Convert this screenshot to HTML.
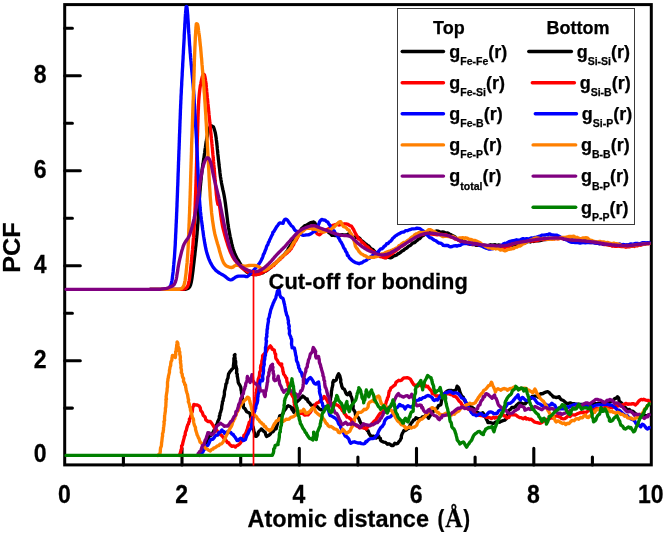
<!DOCTYPE html><html><head><meta charset="utf-8"><title>PCF</title>
<style>html,body{margin:0;padding:0;background:#fff}svg{display:block}text{font-family:"Liberation Sans",sans-serif;font-weight:bold;fill:#000;stroke:#000;stroke-width:0.25px}</style></head><body>
<svg width="666" height="536" viewBox="0 0 666 536">
<rect width="666" height="536" fill="#fff"/>
<g stroke="#000" fill="none">
<rect x="64.7" y="4.6" width="586.6" height="460.3" stroke-width="3"/>
<path d="M123.4 464.9V457.0M182.0 464.9V448.3M240.7 464.9V457.0M299.3 464.9V448.3M357.9 464.9V457.0M416.5 464.9V448.3M475.1 464.9V457.0M533.8 464.9V448.3M592.4 464.9V457.0M64.8 408.1H72.4M64.8 360.7H80.3M64.8 313.2H72.4M64.8 265.7H80.3M64.8 218.2H72.4M64.8 170.8H80.3M64.8 123.3H72.4M64.8 75.8H80.3M64.8 28.3H72.4" stroke-width="3.1" stroke-linecap="round"/>
</g>
<g fill="none" stroke-linejoin="round" stroke-linecap="round" stroke-width="3.35">
<polyline stroke="#000" points="200.0,455.4 201.0,454.8 201.5,452.9 202.2,451.6 203.0,450.0 203.5,448.9 204.4,447.3 204.6,446.2 205.5,443.8 206.3,443.5 206.8,441.9 207.1,440.1 208.2,438.5 208.9,436.3 210.0,435.9 211.3,435.2 212.1,433.8 213.0,432.4 214.2,429.9 215.0,429.0 215.7,427.8 215.8,426.0 216.9,424.0 217.2,423.4 217.8,421.4 218.4,420.4 219.4,418.0 219.3,416.2 219.9,415.6 220.0,413.4 220.7,411.8 221.1,410.2 221.6,408.7 221.7,406.8 222.0,405.1 222.4,403.4 222.5,401.6 223.1,400.8 223.3,398.2 223.7,397.7 224.1,396.0 224.4,394.5 224.4,391.9 224.8,390.1 225.1,389.3 225.5,387.2 225.8,385.5 225.9,384.1 226.8,382.9 227.1,380.0 227.5,379.1 228.0,378.1 228.2,376.3 228.6,373.9 229.5,372.5 230.5,370.9 231.0,370.6 231.9,369.2 233.4,367.9 233.4,365.3 233.6,364.5 233.8,362.4 233.9,361.6 233.9,358.3 234.7,356.9 234.3,355.2 235.0,354.6 234.7,355.5 234.9,357.0 235.2,359.3 235.4,360.3 235.7,361.8 235.6,365.0 235.9,365.7 236.4,368.2 236.7,368.8 236.7,371.8 236.5,373.1 237.3,374.2 237.2,376.2 237.5,377.1 237.8,379.1 238.1,380.9 238.2,382.3 238.8,383.7 239.5,384.6 240.4,386.4 240.8,387.5 241.1,390.3 241.4,390.9 241.6,393.6 242.0,394.8 242.3,396.1 242.3,398.2 242.2,399.1 242.7,400.9 243.1,402.8 243.4,404.8 243.3,406.2 243.7,407.9 244.8,408.5 245.8,410.1 246.7,411.8 248.4,412.5 250.2,413.7 250.3,414.4 250.6,416.9 251.2,418.5 251.1,420.5 251.6,420.7 252.0,423.8 252.1,424.9 252.4,425.8 253.1,427.1 253.7,429.6 253.7,430.6 254.6,433.5 254.9,435.3 255.5,436.3 256.5,436.3 257.1,435.5 258.0,434.7 258.2,432.7 259.2,431.0 260.6,430.0 261.3,428.9 262.9,430.5 264.3,431.9 265.1,432.1 265.8,434.9 266.6,436.5 268.4,435.6 269.7,434.6 270.7,433.5 271.7,431.7 273.0,431.7 274.3,429.8 275.4,428.3 276.2,428.7 276.8,426.1 277.4,424.3 277.8,422.6 278.1,420.8 278.8,419.0 279.3,417.8 279.7,415.8 281.2,415.3 282.2,415.0 283.0,413.1 284.0,411.3 284.6,410.1 285.8,408.8 286.8,406.7 288.3,405.8 289.4,406.2 291.5,407.4 291.8,409.3 293.0,410.8 293.8,412.3 294.3,410.3 294.5,409.4 294.9,407.3 295.4,404.8 295.6,403.9 296.4,402.1 297.9,400.9 299.4,399.6 300.5,398.0 302.1,397.1 302.7,396.0 304.5,397.4 306.0,399.0 307.3,399.0 307.8,401.2 308.9,402.3 310.1,403.4 310.9,405.0 312.1,405.9 313.3,405.2 314.4,405.5 316.4,406.6 317.5,406.7 319.3,409.0 321.3,409.9 322.9,409.4 324.1,407.4 326.3,407.0 327.5,406.6 327.9,406.4 328.6,403.8 329.0,403.0 330.0,401.3 330.5,399.8 330.5,398.4 330.9,396.9 331.2,395.3 331.4,392.8 331.4,391.7 331.8,389.9 332.0,388.1 332.3,387.0 332.8,384.9 332.8,382.3 333.5,380.6 334.5,381.2 336.3,379.9 336.5,379.2 336.9,377.5 337.6,375.5 338.6,373.7 339.8,375.9 340.4,378.3 340.8,379.8 340.7,382.1 341.1,383.2 341.4,384.1 341.7,386.0 342.7,388.4 344.3,389.3 345.1,390.9 345.8,392.8 346.7,394.3 347.6,394.8 348.8,393.2 349.8,392.3 350.5,394.0 350.6,395.7 351.5,397.2 351.9,398.4 352.2,399.8 352.4,400.9 352.7,403.0 352.9,404.6 353.2,405.7 353.0,408.7 353.9,410.3 354.8,411.6 355.2,412.5 355.5,415.1 357.3,416.7 358.4,417.8 359.0,418.9 359.9,421.3 361.0,423.6 361.7,423.9 363.1,426.5 363.7,427.7 365.8,428.3 367.7,431.0 368.3,431.0 368.7,432.8 369.5,434.2 371.1,436.4 373.3,436.2 375.0,436.8 376.2,438.0 377.9,436.3 378.6,435.9 379.2,437.7 380.4,438.5 380.5,440.2 381.7,441.3 383.7,442.1 385.5,442.4 387.4,444.2 388.9,443.8 390.4,444.5 391.4,445.5 393.2,445.5 394.8,443.2 396.1,443.9 397.8,443.4 398.9,441.7 400.1,440.3 400.6,439.2 401.3,438.1 401.4,435.9 402.2,433.7 402.9,432.5 404.0,430.4 404.9,430.6 406.3,430.0 407.3,428.7 408.7,428.5 409.7,425.8 410.4,424.8 411.4,422.8 412.3,422.1 413.6,420.0 414.8,419.8 415.9,417.8 417.8,418.7 419.2,418.7 421.2,418.5 422.4,416.8 424.5,416.5 426.0,414.8 427.4,416.6 428.6,418.3 429.2,417.0 430.0,415.9 430.8,414.4 432.0,412.2 433.5,411.4 434.7,409.4 435.8,408.5 437.4,408.2 438.5,405.6 439.8,405.2 440.8,404.7 441.1,403.7 441.4,401.2 441.8,399.8 442.3,398.3 442.6,396.3 443.8,394.9 445.0,394.1 445.8,392.1 447.6,390.9 449.3,390.4 451.3,390.4 453.4,391.2 454.5,390.5 455.8,390.1 456.5,388.4 457.1,386.2 458.4,387.4 459.1,389.0 459.9,392.0 460.4,393.1 461.3,395.3 462.5,396.8 463.3,397.0 463.8,399.3 465.2,401.1 465.9,402.3 466.4,403.7 467.3,404.1 468.6,405.2 469.6,406.2 471.7,407.0 473.1,408.3 474.2,408.8 475.6,410.6 476.6,411.9 478.3,412.8 479.6,413.3 481.7,413.5 482.8,412.7 483.7,413.9 484.5,415.5 485.6,417.4 486.4,419.4 487.3,420.7 487.9,422.6 489.6,422.4 491.4,422.9 493.0,423.3 494.4,423.0 495.6,422.0 497.7,422.0 499.5,422.2 501.0,421.3 503.0,420.6 504.7,420.2 506.5,418.5 507.0,417.1 507.1,415.1 507.9,414.7 508.1,412.7 508.6,410.5 509.5,410.0 510.7,409.1 511.8,407.5 513.8,407.5 515.2,406.9 516.8,404.9 518.7,403.2 520.5,402.8 521.9,403.4 523.3,403.9 525.5,403.8 526.1,402.1 527.1,402.1 528.4,401.2 529.6,398.7 530.7,398.7 532.0,396.5 533.2,396.4 534.9,396.2 537.0,396.1 538.4,397.3 539.5,395.6 540.7,393.6 542.5,393.7 544.2,392.7 545.7,392.1 547.7,391.7 549.3,392.7 550.7,394.3 552.2,395.5 553.3,397.0 554.7,397.0 556.4,397.6 557.8,397.1 559.2,396.7 560.2,398.6 561.4,399.7 563.4,400.5 565.0,401.9 566.3,403.5 568.2,403.5 570.2,402.9 571.8,403.3 573.9,403.6 574.9,404.1 577.0,404.2 578.4,404.2 579.8,404.4 581.9,404.5 583.2,404.3 585.1,404.9 586.4,404.9 588.4,404.2 590.0,403.7 591.5,404.5 593.4,404.0 595.3,403.7 596.5,404.1 598.2,403.4 600.1,403.5 601.8,402.6 603.1,401.9 605.1,403.2 606.6,402.2 608.5,402.4 609.8,402.3 611.4,401.0 613.1,400.8 614.4,398.9 616.2,398.1 617.5,396.8 618.7,397.9 619.1,400.8 620.2,402.0 621.3,402.9 622.6,404.2 623.7,406.8 625.1,407.2 625.9,408.4 627.7,409.6 629.4,409.5 630.7,411.1 632.5,411.1 633.4,411.8 635.1,413.5 636.1,414.0 637.5,415.4 639.5,414.7 640.6,415.9 642.4,415.9 644.4,414.9 645.6,416.1 648.0,415.2 649.2,414.6"/>
<polyline stroke="#f00" points="179.0,455.4 180.0,453.9 180.8,451.2 181.0,449.9 181.6,448.7 181.6,445.8 182.5,444.8 182.9,442.4 183.1,441.9 183.4,440.6 184.3,437.4 184.2,436.7 185.2,434.9 185.2,433.4 185.6,431.5 186.3,430.3 186.7,428.3 187.1,427.1 187.7,424.8 188.5,424.1 188.8,422.0 189.5,421.5 189.4,419.1 190.3,418.1 190.9,416.1 191.2,414.9 191.4,413.2 192.2,411.9 192.5,409.7 192.7,407.4 193.7,405.9 193.8,404.4 195.8,405.0 197.3,405.0 199.1,405.9 199.7,406.9 200.3,407.9 200.7,410.6 201.9,411.9 202.4,412.7 203.3,415.5 204.3,416.3 205.2,417.2 205.8,419.9 206.6,420.5 208.2,421.5 210.3,421.5 211.9,423.6 212.9,425.1 213.7,426.3 214.5,427.7 215.1,430.0 216.7,430.2 218.0,431.9 219.1,433.0 220.5,434.7 221.8,435.7 222.7,436.6 224.0,438.4 225.7,440.0 226.7,441.3 227.3,442.6 228.6,442.6 229.2,443.8 230.7,445.4 232.0,446.4 233.8,445.9 235.4,447.0 236.6,445.7 238.2,445.1 239.2,444.2 240.3,443.1 241.3,441.4 241.8,441.1 242.8,438.5 243.6,438.0 243.9,435.3 244.7,435.0 245.5,433.5 246.4,431.7 246.6,430.9 247.5,428.7 247.7,427.3 248.3,425.7 248.8,424.3 249.2,422.2 250.3,421.6 250.7,420.0 251.5,418.6 252.6,416.1 253.1,413.9 253.8,412.3 254.0,412.1 254.0,409.2 254.4,408.8 254.6,406.4 254.6,404.5 254.7,403.4 255.1,401.0 255.1,400.1 255.4,398.2 255.7,397.1 256.3,394.1 256.1,392.9 256.8,392.0 256.6,389.5 257.1,388.8 257.4,386.4 257.6,385.3 257.7,384.0 257.9,381.8 258.2,379.1 259.0,377.3 259.3,376.2 259.6,374.1 259.6,372.4 260.3,371.2 260.7,370.1 260.5,367.9 260.8,365.4 261.1,365.1 261.8,363.3 261.8,361.3 262.4,359.3 262.6,357.4 262.6,355.8 263.5,354.6 264.9,353.2 265.9,352.5 267.2,349.6 268.1,348.1 268.8,347.7 270.4,345.9 271.8,347.8 272.1,349.1 274.3,350.0 274.6,351.9 275.1,353.7 275.7,354.2 275.6,356.2 275.8,358.1 276.1,358.7 277.5,360.5 278.1,362.2 278.8,362.9 280.4,364.8 281.7,363.9 281.6,366.3 282.5,367.9 282.8,369.7 282.9,371.2 283.4,372.3 283.6,374.0 285.0,375.7 285.7,377.4 286.7,378.3 286.7,379.8 287.1,382.2 287.9,382.9 287.9,384.9 288.5,386.6 288.6,387.2 289.3,388.7 290.2,390.1 290.6,392.5 291.5,394.1 292.3,395.7 292.8,396.5 293.5,397.5 293.9,399.3 294.1,402.3 294.5,402.9 294.3,404.8 295.4,406.1 296.0,407.6 296.6,409.1 297.4,411.5 299.0,412.6 300.2,413.4 301.7,413.1 303.1,413.7 304.8,415.1 306.0,414.8 308.1,414.8 309.5,413.2 310.7,411.8 311.5,410.3 312.4,408.6 313.7,408.0 314.5,406.1 315.2,405.0 315.8,404.0 317.1,402.9 318.5,402.5 320.0,400.7 321.3,400.3 322.4,398.9 323.5,398.1 324.2,396.5 325.6,397.7 326.8,399.9 328.0,402.1 328.4,403.4 329.0,404.1 331.2,404.5 332.8,403.4 334.8,403.3 336.2,404.8 337.5,405.1 338.9,406.1 340.0,407.6 341.2,408.2 341.5,409.0 342.4,410.7 343.5,411.1 344.3,413.4 345.2,414.2 346.2,415.7 347.2,417.2 348.9,417.4 349.9,418.6 351.1,419.0 351.9,421.7 353.0,422.8 354.1,424.4 355.7,424.8 356.8,426.1 358.1,426.5 359.7,427.9 361.9,427.2 363.3,427.9 364.6,428.0 366.3,429.0 367.4,427.1 369.0,425.8 370.3,425.7 371.7,424.0 372.4,423.3 373.4,422.1 374.4,421.0 375.8,420.0 377.0,417.9 377.8,416.8 379.1,414.7 380.2,413.2 381.4,412.9 382.9,411.7 383.7,410.4 384.4,408.7 384.6,406.3 385.5,404.4 386.0,402.8 386.6,400.6 387.2,399.6 387.5,397.9 388.3,396.7 388.6,395.0 389.0,392.6 389.2,391.1 390.1,390.4 390.7,388.1 392.5,386.8 394.0,385.6 395.1,385.1 395.9,382.4 397.2,381.5 398.7,380.3 400.3,380.6 401.4,380.2 402.7,378.9 404.0,377.8 405.3,377.8 407.1,377.6 408.7,378.1 410.4,379.2 411.4,380.9 412.2,382.3 413.0,383.5 413.5,384.4 415.2,385.8 416.6,385.0 418.2,386.0 419.6,384.9 421.3,385.7 423.0,384.8 424.7,384.7 426.1,386.7 427.8,386.3 429.1,388.3 430.0,389.3 431.6,391.1 432.3,393.6 434.3,394.1 436.0,396.0 437.8,395.8 440.2,396.1 441.3,394.9 442.7,394.0 444.0,393.6 446.1,392.8 447.4,393.8 449.3,393.7 450.3,394.6 452.0,394.5 453.3,396.0 455.1,396.4 456.7,397.6 458.0,399.4 459.1,401.2 460.0,401.8 461.0,402.7 461.9,404.7 463.1,405.9 464.6,407.0 466.5,407.5 467.7,408.8 469.3,409.3 470.3,410.2 471.9,412.5 472.9,412.2 474.9,414.0 476.7,414.2 478.0,415.1 479.5,415.4 481.2,415.5 483.1,416.0 484.5,416.3 486.6,417.3 488.1,417.4 489.8,417.6 491.4,418.6 493.3,417.2 494.8,418.2 496.2,417.2 498.0,417.8 499.5,416.5 501.4,414.0 502.9,414.4 503.8,415.9 505.1,416.0 506.8,417.8 508.9,417.3 510.0,414.7 512.6,414.7 514.4,414.8 515.9,415.0 517.9,416.6 519.6,417.6 521.2,417.7 523.2,418.7 525.3,417.5 526.3,419.1 528.0,418.7 529.4,419.6 531.0,419.2 532.5,420.3 534.1,421.8 536.0,422.3 538.2,422.8 540.2,423.3 541.2,422.9 542.5,422.0 544.2,421.1 545.0,419.3 546.9,419.5 547.9,419.8 549.5,418.7 551.5,417.7 553.2,418.2 554.9,416.6 556.0,416.1 557.6,415.5 558.5,416.6 560.3,417.0 561.4,418.4 563.4,418.9 564.8,418.6 566.4,417.5 568.1,415.9 570.0,416.5 571.6,414.8 573.2,414.9 575.1,415.0 576.7,414.1 578.1,413.5 580.4,412.6 582.0,412.7 583.6,412.0 584.9,412.5 586.1,412.6 587.9,411.0 589.0,410.2 590.4,410.0 592.6,409.2 594.4,409.5 596.3,408.3 597.9,409.0 600.0,408.7 601.8,408.5 603.2,408.2 604.8,407.7 605.8,407.0 607.5,407.9 609.2,407.6 610.7,407.2 612.3,407.7 613.4,407.1 615.3,406.8 616.3,405.8 618.1,406.1 619.8,405.3 621.1,406.0 622.4,404.9 624.4,404.3 625.7,403.4 627.7,404.3 629.0,404.0 631.2,404.1 632.4,403.6 633.5,403.6 635.3,405.0 636.1,404.2 637.4,403.1 638.7,401.3 639.8,400.2 641.2,399.4 642.3,399.8 643.7,399.3 645.7,400.1 648.5,400.5 649.2,402.2"/>
<polyline stroke="#00f" points="200.0,455.4 201.1,455.1 201.3,452.6 202.8,452.2 203.7,450.0 204.7,449.0 205.7,446.8 206.6,445.6 207.8,445.3 208.9,443.4 209.6,441.6 210.4,440.0 211.7,439.2 212.9,439.2 214.2,437.7 215.3,435.9 216.6,435.1 217.7,435.2 218.8,432.7 220.0,432.4 220.9,431.3 221.9,429.9 222.5,431.4 223.7,431.4 224.5,433.5 225.5,432.4 226.8,432.2 228.0,431.2 229.2,432.3 230.8,432.5 231.9,434.2 233.2,434.5 233.8,435.8 235.1,437.1 236.1,438.9 237.1,440.5 238.4,440.3 239.3,439.1 240.7,438.3 241.7,438.6 243.1,440.6 244.5,440.1 245.4,439.6 246.2,437.3 246.8,435.5 247.5,434.4 248.0,433.8 248.8,431.4 250.2,429.2 250.7,428.6 251.7,426.6 251.7,424.4 252.1,423.3 252.3,422.1 252.6,420.1 252.9,417.7 253.7,415.9 253.6,415.1 254.0,412.4 254.9,410.9 254.8,409.5 255.7,408.5 255.9,406.2 256.3,404.7 257.0,403.5 257.4,401.9 257.7,400.2 257.7,397.7 258.1,396.2 258.0,394.8 258.8,392.6 258.9,391.4 259.1,389.3 259.7,387.9 259.7,386.5 259.6,385.0 259.9,382.6 260.1,381.1 260.4,380.2 262.4,380.8 262.9,379.1 262.6,376.5 262.8,375.0 263.2,373.7 263.5,371.1 263.5,369.8 263.4,367.4 263.9,365.8 264.3,364.3 264.1,362.5 264.3,360.8 264.7,359.5 264.8,358.1 264.8,356.9 265.5,354.9 265.3,352.9 265.5,350.5 265.5,349.6 265.5,347.3 266.0,346.1 266.0,345.3 266.2,342.6 266.5,341.1 266.1,340.0 266.2,337.7 266.9,336.6 266.6,334.6 267.0,333.0 267.0,331.5 267.1,329.3 267.5,328.7 267.5,326.7 267.8,324.8 268.1,322.9 268.5,321.1 268.3,319.0 268.6,318.5 269.3,317.1 269.7,314.0 270.0,313.6 270.4,311.5 270.8,309.6 271.7,307.5 272.1,306.1 272.7,304.9 273.1,303.3 273.8,302.1 274.4,300.5 275.0,299.6 275.8,297.9 276.3,295.6 276.5,295.5 277.0,293.0 277.4,291.0 278.5,290.9 278.9,288.0 278.9,289.7 279.5,291.9 279.6,293.2 279.7,294.7 280.5,296.6 281.3,297.6 283.0,298.5 283.6,300.6 283.9,302.3 284.6,304.8 284.7,305.5 285.0,307.0 285.5,310.0 285.6,311.0 286.1,312.4 286.6,314.9 287.1,315.7 287.7,317.1 288.0,319.2 288.5,321.1 288.3,322.6 288.7,324.5 289.3,326.3 288.9,327.9 289.5,330.3 289.5,331.9 289.3,333.7 289.8,334.9 290.8,337.0 291.0,338.5 291.6,339.2 291.7,341.4 291.5,343.4 291.6,344.8 291.9,345.9 292.1,347.8 294.1,347.8 294.4,348.1 295.0,351.2 295.4,352.9 295.6,354.6 295.9,355.7 296.3,357.1 296.4,360.0 296.9,361.6 297.7,362.7 298.1,365.0 298.6,365.6 298.6,367.6 299.6,369.1 300.1,371.2 301.5,372.5 301.8,374.0 302.4,376.2 303.0,377.3 303.7,378.6 304.8,379.2 305.6,380.9 306.3,383.1 307.3,381.0 308.5,379.1 309.4,378.2 310.3,377.5 311.3,378.5 311.8,379.2 312.8,380.6 313.8,382.8 314.8,383.7 316.0,384.1 317.2,382.8 318.6,382.1 318.8,384.1 319.3,386.9 319.2,388.3 319.7,389.6 319.4,391.1 319.8,393.5 320.2,394.6 320.7,396.1 321.0,398.4 321.0,400.3 321.5,402.1 322.4,403.1 322.7,405.5 323.3,406.8 323.8,408.8 325.0,408.0 325.9,406.6 326.9,407.9 327.6,409.2 328.8,411.2 329.3,413.7 330.0,415.5 330.8,415.6 332.6,416.6 334.6,417.8 335.6,418.5 336.5,419.5 337.8,421.1 338.3,423.2 339.0,424.3 340.3,425.6 340.7,427.4 341.6,429.4 342.4,430.9 343.2,432.4 344.3,434.2 345.2,436.1 346.1,436.2 347.7,437.8 348.8,438.9 349.7,441.7 350.7,443.2 352.5,442.2 354.4,441.8 356.0,442.4 357.8,443.0 360.0,442.8 361.6,443.7 363.5,443.8 364.9,443.4 365.9,441.5 366.7,441.8 367.7,440.5 369.1,439.3 370.4,438.7 372.5,438.6 373.7,438.3 375.4,437.1 376.5,435.4 377.6,434.6 377.8,433.4 378.7,431.1 380.0,428.9 381.1,427.1 382.0,426.9 383.2,424.8 384.0,423.9 384.4,421.8 385.3,419.8 386.3,418.8 387.4,417.7 388.7,417.3 390.4,416.9 391.7,415.4 393.3,414.1 393.6,413.5 394.7,410.8 395.4,409.3 396.3,407.9 397.3,407.4 398.7,405.9 399.6,404.4 401.4,405.9 402.7,405.8 404.3,407.4 405.1,408.9 406.5,406.7 408.0,405.7 409.6,406.7 411.3,407.1 412.1,406.3 413.8,405.2 414.5,402.7 415.1,401.6 416.2,401.0 416.7,400.4 418.6,400.1 419.7,398.8 420.9,399.4 422.9,397.7 424.7,397.3 426.0,396.3 427.8,395.5 429.5,395.8 431.1,396.8 432.4,397.8 433.1,399.5 434.2,400.5 436.2,399.6 437.8,400.0 438.9,398.2 439.8,396.7 440.9,395.2 442.4,394.7 444.0,393.9 445.9,392.8 447.3,392.5 449.4,391.4 450.9,391.7 452.3,392.9 453.2,393.4 455.2,392.8 456.3,392.9 457.7,393.3 459.0,394.4 460.5,396.2 461.6,398.0 463.5,398.5 465.0,399.9 465.4,402.2 466.2,402.8 467.1,405.7 468.0,406.5 469.1,408.7 469.6,409.3 470.9,411.5 471.3,412.4 472.5,413.5 473.2,414.6 474.6,414.5 476.1,415.7 477.6,415.1 479.1,414.2 480.9,413.6 482.2,414.8 483.7,415.8 485.6,415.5 486.9,414.5 489.0,412.2 490.6,411.9 492.2,412.3 493.8,413.8 495.6,413.5 497.2,413.3 498.6,410.9 500.4,409.9 501.8,409.8 503.7,409.8 504.8,409.0 505.4,407.1 506.4,405.9 507.7,403.7 508.6,403.3 510.3,403.3 511.9,401.9 513.1,401.1 513.4,400.2 514.4,399.2 515.4,397.7 516.8,396.4 518.1,394.8 518.5,397.5 519.1,398.6 520.5,400.0 521.7,397.8 522.7,397.4 523.9,398.7 525.4,400.0 526.6,400.4 528.8,400.5 529.7,398.7 531.0,397.4 531.6,397.7 533.2,398.1 534.3,398.8 535.2,399.8 536.0,401.1 537.0,402.6 538.4,403.5 540.1,404.0 541.7,405.5 543.3,405.4 544.8,403.8 546.6,404.9 548.6,406.4 549.4,405.1 550.5,404.8 551.9,403.2 553.1,404.4 554.8,405.3 555.9,407.5 557.7,409.0 559.0,408.5 560.4,408.9 562.0,408.6 563.8,408.9 566.3,408.5 567.5,406.6 568.6,407.3 570.4,406.2 571.5,405.8 573.0,405.0 574.7,404.4 576.5,404.5 578.3,404.7 580.0,405.7 581.7,405.1 583.0,406.1 584.7,406.0 586.3,405.4 587.8,406.3 589.5,406.9 591.5,406.0 593.1,406.7 594.8,405.5 596.5,405.0 597.7,405.0 599.7,404.6 601.2,405.5 603.1,404.6 605.2,404.4 606.9,404.0 608.8,404.9 610.4,405.0 611.9,405.2 613.6,406.5 615.3,407.7 616.5,409.1 617.6,410.1 619.3,410.2 621.2,411.9 622.6,413.3 623.3,413.8 624.9,415.4 627.0,415.5 628.4,417.0 630.5,418.7 632.1,419.4 633.5,420.0 634.8,421.1 635.9,423.4 637.2,424.5 638.4,424.9 639.7,425.9 640.7,426.8 642.1,424.4 642.4,424.2 643.9,424.9 645.1,426.6 646.5,428.4 647.5,429.0 648.7,428.5 649.2,427.5"/>
<polyline stroke="#ff8000" points="158.0,455.4 158.9,454.4 160.0,453.5 160.4,450.9 160.3,450.4 160.6,447.7 161.3,446.3 161.5,444.6 161.6,442.4 161.8,441.8 162.0,439.8 162.3,437.0 162.6,436.1 162.5,433.5 163.1,432.5 163.2,431.4 163.5,429.7 163.5,427.8 163.8,426.3 164.2,423.2 163.9,421.7 164.6,420.4 164.5,418.4 164.6,416.9 164.6,415.5 164.9,414.3 165.1,412.6 165.4,411.0 165.4,408.0 165.7,407.6 165.9,405.2 165.9,402.9 166.1,401.8 165.9,399.3 166.5,399.1 166.1,397.0 166.5,394.3 166.6,393.6 167.1,390.7 167.1,389.0 167.3,387.8 167.5,387.1 167.5,385.4 167.5,382.2 167.9,380.4 167.9,379.2 168.5,377.0 168.4,376.4 168.8,374.8 169.5,372.1 169.4,370.6 169.8,368.9 170.0,367.2 170.7,365.3 170.7,364.0 171.0,361.6 171.8,360.3 172.0,357.8 172.3,357.0 172.4,355.4 174.0,355.7 175.3,357.6 175.5,355.7 175.8,354.6 175.6,351.8 176.2,351.5 176.2,349.0 176.6,347.0 176.7,345.3 176.9,344.0 177.1,341.9 177.8,343.1 178.1,346.0 178.3,347.0 179.1,348.7 179.1,350.8 179.8,352.1 179.7,354.1 180.2,356.0 180.4,357.2 180.2,359.6 180.7,361.0 180.4,362.1 180.8,363.9 181.1,366.6 180.8,367.4 181.4,369.7 181.5,370.9 181.3,372.5 182.2,374.0 182.3,375.8 182.8,377.4 183.6,378.5 183.5,381.4 184.5,383.0 184.7,384.5 185.5,385.0 185.7,387.5 186.0,388.6 186.1,389.9 186.4,391.1 187.0,393.1 187.5,394.3 187.9,396.9 188.2,398.8 188.6,399.9 188.3,401.8 188.8,402.7 189.5,404.7 189.8,407.1 190.3,407.8 190.5,410.3 191.1,411.8 191.4,412.6 192.0,415.3 192.2,416.9 193.1,418.6 193.4,419.0 193.7,422.0 193.8,422.8 194.3,424.9 194.9,426.4 195.5,427.4 195.5,429.2 195.9,430.8 196.9,433.8 197.0,434.7 197.7,435.8 198.4,437.8 199.1,438.8 199.5,440.3 200.1,442.1 201.5,443.1 202.1,444.0 203.3,445.9 204.6,446.8 205.6,448.5 207.0,448.9 208.7,450.3 210.3,451.1 211.6,449.4 212.9,449.2 213.9,447.8 215.4,447.6 217.3,445.9 218.8,445.6 220.0,444.2 221.5,443.8 222.8,442.4 223.9,440.5 224.9,438.8 225.5,437.4 226.5,435.1 227.7,433.4 228.0,431.8 229.2,430.3 229.4,429.8 230.1,428.2 231.2,426.6 232.1,424.5 232.7,422.0 233.4,421.2 234.1,418.9 234.8,418.6 235.1,416.0 236.1,415.2 236.6,412.6 237.4,411.8 238.4,410.0 238.9,408.6 239.6,407.2 240.2,405.9 241.5,404.3 242.1,402.5 243.3,402.1 244.5,400.5 245.7,399.4 247.2,397.4 247.9,397.1 249.1,398.3 249.4,400.3 249.8,401.1 250.2,403.3 250.7,404.4 251.4,407.2 251.5,408.4 252.0,410.3 252.5,411.0 252.7,412.3 253.3,414.5 254.7,415.3 256.5,416.8 257.5,418.8 258.8,419.8 259.9,421.8 261.2,422.5 262.1,423.9 263.4,424.4 264.4,426.4 265.4,426.4 266.3,428.2 267.7,429.7 268.9,429.7 269.6,430.8 270.7,429.9 272.2,428.6 272.9,426.9 273.8,424.9 274.9,423.1 275.3,423.1 276.3,421.1 278.2,420.3 279.5,418.5 281.4,420.0 282.9,421.4 285.0,420.3 286.4,419.1 287.6,419.4 288.9,419.2 290.8,417.4 292.1,417.0 293.4,416.7 294.5,415.8 295.8,414.9 296.6,413.7 298.2,412.5 299.6,411.2 301.2,411.2 302.6,410.9 303.7,409.3 304.9,411.4 305.7,413.2 307.1,413.3 308.4,412.2 309.1,412.1 310.4,410.7 311.5,409.4 312.4,407.9 313.3,407.6 314.4,408.8 315.0,410.0 315.3,411.5 316.3,412.4 317.8,413.9 319.6,415.3 320.9,416.2 322.7,417.6 323.4,419.2 324.1,419.7 324.9,420.9 326.2,423.4 326.9,423.6 328.1,425.6 329.5,426.7 331.0,426.5 332.5,427.4 334.3,428.9 335.8,429.2 337.3,429.9 338.4,432.4 339.6,432.7 340.4,431.9 341.6,431.5 342.7,429.3 344.2,430.7 345.4,432.2 346.4,433.3 348.5,432.0 350.0,431.0 350.6,429.5 351.4,427.8 352.6,426.1 353.1,425.3 353.9,422.3 354.3,421.4 354.4,419.3 355.1,417.2 355.8,416.9 356.9,415.1 358.4,412.3 360.9,412.3 362.6,411.2 364.2,409.3 365.9,409.5 367.6,407.9 368.2,406.5 368.3,404.4 368.9,403.2 369.6,402.2 371.2,401.4 372.3,400.7 373.4,401.3 375.0,402.0 375.1,401.2 376.0,398.7 376.3,397.2 377.7,396.4 378.6,395.9 379.6,397.3 379.9,398.9 380.2,400.4 380.8,401.9 381.1,403.3 382.7,404.9 384.2,405.2 386.0,406.9 387.5,407.2 388.6,408.6 389.7,410.4 391.1,409.9 392.1,411.3 393.0,413.0 393.6,413.9 394.8,415.9 395.7,417.8 396.6,419.2 397.2,420.3 398.7,422.0 399.5,422.2 401.4,424.9 403.0,424.5 403.7,425.7 404.9,426.8 405.9,428.8 408.1,427.3 409.8,427.0 411.3,428.1 413.1,427.1 414.3,427.2 416.4,425.5 416.8,425.1 417.5,422.7 418.5,421.5 420.5,419.4 422.1,419.1 423.8,417.5 425.5,416.0 426.2,414.7 427.6,414.0 428.4,412.4 429.5,411.7 430.3,410.0 431.0,408.2 432.4,407.6 433.5,408.4 434.9,408.6 435.8,411.0 437.2,412.2 438.4,412.6 439.6,414.2 440.8,414.4 442.3,415.2 444.5,414.0 445.9,413.2 447.3,414.8 449.0,414.7 451.0,415.2 453.4,413.8 454.5,414.2 455.9,412.5 457.3,411.7 458.9,410.9 460.2,409.1 461.4,408.1 463.2,407.1 464.0,407.3 465.5,406.1 466.8,404.6 468.3,404.4 469.9,403.2 471.4,403.9 472.5,403.8 474.0,403.3 475.3,402.7 476.4,400.6 477.3,399.6 478.5,397.4 479.4,396.4 480.3,394.9 481.9,393.3 482.9,392.2 483.7,390.4 485.9,389.1 487.2,387.4 488.3,385.9 490.0,385.2 490.7,383.9 491.4,382.2 491.9,383.0 492.7,385.5 493.3,386.5 494.0,388.0 495.0,390.4 495.4,392.1 496.5,389.6 498.0,388.7 499.6,389.6 500.9,390.2 502.7,388.8 504.4,388.5 506.4,389.0 507.6,390.3 509.5,388.7 511.0,388.5 512.5,388.1 513.9,387.1 515.0,386.8 516.4,388.1 518.0,389.1 519.6,389.2 521.2,388.3 523.2,388.5 524.4,388.2 526.3,388.4 527.5,389.8 529.0,390.1 529.9,390.9 531.6,391.8 532.9,392.8 534.2,390.3 534.9,389.0 535.9,390.9 536.5,392.6 537.3,393.6 538.3,395.8 539.2,396.3 539.8,398.0 541.4,399.6 542.9,401.0 543.5,401.3 545.0,403.8 545.9,405.2 546.5,406.0 546.9,407.2 547.8,410.3 548.6,411.2 549.7,413.6 551.0,414.8 552.0,415.4 553.1,415.7 554.0,418.4 554.6,419.0 555.1,420.5 556.0,421.9 557.7,421.0 559.0,421.2 560.7,422.6 562.6,423.6 564.1,422.9 565.7,424.6 567.3,423.3 569.1,423.6 570.4,421.9 572.2,420.4 574.2,420.7 575.7,419.0 577.5,418.6 578.8,419.2 580.4,417.5 582.5,417.8 583.7,416.1 585.4,414.8 587.0,417.4 588.5,417.5 589.7,415.9 591.0,415.7 592.2,414.2 593.6,412.0 594.7,412.4 596.0,410.1 597.9,409.6 599.5,408.8 600.8,409.7 602.3,409.8 603.8,410.1 605.6,409.7 606.8,408.9 608.8,409.9 610.1,411.8 611.9,411.1 613.4,412.4 614.4,412.3 616.1,413.7 617.7,412.3 619.2,412.8 621.0,414.5 622.5,414.1 624.7,416.2 626.4,415.8 627.6,417.8 629.3,418.2 630.9,417.9 632.6,419.1 634.5,418.8 635.9,418.0 637.6,417.2 639.5,415.4 641.0,415.3 642.4,412.8 643.7,412.6 644.0,410.4 644.9,408.7 646.2,407.9 647.3,405.7 648.0,405.3 649.2,403.8"/>
<polyline stroke="#800080" points="197.5,455.4 198.1,453.7 199.0,452.7 199.5,451.7 200.8,450.9 201.4,448.6 202.0,447.2 202.5,445.5 203.2,445.4 204.3,443.8 204.9,441.1 205.2,440.1 206.1,438.8 206.9,435.9 207.3,435.2 207.9,432.7 209.5,433.0 211.5,434.7 212.9,434.2 213.9,433.1 214.7,432.0 215.2,429.8 216.0,428.3 216.5,426.6 218.2,424.9 218.9,424.6 220.4,423.2 221.7,424.1 223.4,425.1 224.2,426.4 226.2,425.9 227.9,426.0 228.9,424.4 230.3,422.4 230.8,421.4 232.2,420.7 232.9,419.0 233.5,417.8 234.0,416.7 235.2,415.6 235.7,414.2 235.9,411.6 237.1,410.9 237.4,409.5 238.1,407.7 238.6,405.0 239.3,403.3 239.9,402.9 240.5,399.7 240.9,398.3 242.0,396.9 242.4,394.8 243.4,393.6 243.6,391.4 244.1,389.9 244.9,388.1 244.9,386.9 245.5,386.0 245.8,383.5 246.6,381.6 247.2,380.0 247.1,378.2 247.4,376.5 248.2,378.8 249.2,379.7 249.3,380.9 250.0,382.4 250.3,381.8 250.6,378.8 251.4,377.9 251.7,375.9 252.0,374.6 252.3,376.4 252.5,377.0 252.7,379.9 253.6,381.7 254.0,382.4 255.2,383.5 256.9,384.6 258.4,386.1 258.8,387.9 259.8,388.0 260.4,390.9 260.8,390.9 263.5,391.0 264.1,393.5 264.1,394.3 265.0,396.6 265.3,395.5 265.3,392.4 266.0,390.8 266.2,389.3 266.4,388.7 266.7,386.7 267.1,384.4 267.2,382.9 267.7,381.8 267.7,379.7 267.8,377.2 268.4,376.2 268.9,374.6 268.8,372.5 269.6,371.1 269.5,369.9 270.5,367.1 270.7,365.9 272.5,364.2 272.3,366.1 273.0,367.1 272.6,369.6 273.3,371.1 273.2,373.3 273.6,373.7 273.9,375.5 273.7,378.2 274.0,379.8 274.8,380.7 275.9,380.4 276.8,379.4 277.5,378.9 278.2,376.1 278.4,378.5 278.9,380.3 279.3,380.8 279.6,383.5 280.1,384.9 280.9,386.2 281.5,387.6 282.1,389.5 283.1,390.9 283.8,392.2 285.7,390.1 287.0,389.7 288.7,390.4 290.1,390.4 291.1,391.2 292.9,392.0 294.4,393.0 295.5,393.8 296.8,394.6 297.8,397.2 298.9,395.1 300.3,392.9 300.7,390.8 301.9,390.4 302.5,388.7 303.2,386.1 303.1,384.8 303.3,383.7 303.5,382.0 303.3,379.7 303.8,378.1 304.2,376.6 304.5,375.1 305.1,372.9 305.8,371.4 305.9,369.0 306.4,368.0 307.3,366.7 307.4,364.3 308.1,362.4 308.4,360.3 308.7,359.5 309.5,358.0 309.7,356.9 310.4,353.9 310.8,353.6 312.3,351.9 312.8,349.2 313.3,347.5 315.1,350.3 315.7,351.7 315.4,352.5 315.7,355.3 315.7,356.7 316.2,358.0 317.6,357.1 318.6,356.5 318.7,357.8 319.2,359.5 319.4,362.4 319.9,363.8 320.5,365.1 320.8,367.0 321.3,368.2 321.6,369.8 322.1,371.2 322.4,372.2 323.0,374.4 322.9,375.5 323.8,377.3 323.9,379.8 324.6,381.0 324.7,382.9 324.9,385.4 325.3,387.3 325.8,387.8 326.7,390.5 326.8,391.7 327.5,393.6 327.8,395.4 328.8,396.8 329.3,398.9 329.4,400.4 330.2,401.6 330.2,403.3 331.3,404.5 331.9,407.1 332.7,407.4 333.6,409.4 334.5,411.7 335.3,413.1 336.6,413.3 337.8,415.3 338.5,417.0 339.0,418.3 339.5,419.7 340.4,421.1 341.1,423.3 342.6,424.7 344.3,423.4 345.7,422.3 347.7,424.5 349.3,424.0 351.2,424.3 352.5,422.2 354.0,424.3 355.1,424.5 356.8,425.1 358.3,425.9 359.8,427.6 361.3,426.7 362.3,425.2 363.7,423.8 364.8,424.5 366.7,424.8 368.0,425.1 370.0,425.6 371.4,424.2 372.8,424.9 375.1,423.3 376.2,422.7 377.4,422.6 378.4,421.4 379.6,420.4 380.3,418.5 381.3,418.1 382.0,416.3 382.8,415.2 383.7,412.2 384.8,412.5 386.2,411.3 387.2,409.0 388.2,408.4 389.7,406.9 390.3,406.8 391.4,405.4 392.6,403.1 393.9,402.1 394.4,400.3 395.3,398.4 396.0,396.8 397.3,394.7 398.5,393.6 399.8,395.8 401.1,395.9 402.4,396.7 403.6,397.1 405.7,395.9 407.4,395.7 409.0,397.5 410.5,396.5 411.7,394.3 412.4,396.4 413.3,398.2 413.8,400.1 414.7,401.8 415.0,402.5 415.9,404.2 416.9,405.8 418.6,405.3 420.1,405.0 421.3,405.4 421.8,407.9 422.6,407.6 423.4,410.1 424.9,412.0 426.0,412.2 427.0,412.2 428.1,410.1 429.2,409.5 430.0,410.8 430.7,411.3 432.0,413.7 432.5,414.0 434.2,415.5 436.3,416.2 437.4,417.3 438.0,418.6 439.4,419.7 440.5,417.6 441.5,417.8 442.4,415.5 444.0,415.5 445.9,415.1 447.6,414.5 449.1,414.9 450.6,414.5 452.2,412.5 453.2,412.2 455.0,410.6 456.8,409.1 458.2,408.2 460.1,408.2 461.9,407.0 463.3,407.3 464.6,408.5 466.7,408.1 468.9,409.3 470.8,408.9 472.2,409.3 474.0,411.9 474.9,410.2 476.1,409.4 477.6,408.6 478.0,406.6 478.6,405.5 480.0,404.8 480.3,402.9 481.0,401.4 482.1,399.8 482.7,399.4 483.3,396.7 484.5,396.8 485.6,394.2 486.1,393.6 488.1,394.6 489.4,395.8 491.0,397.1 492.1,398.2 493.5,396.2 494.6,395.0 495.2,397.7 496.2,398.6 497.0,400.6 497.5,402.2 498.1,404.1 498.8,405.3 499.6,406.2 501.1,407.3 503.1,408.8 504.5,409.5 506.1,410.5 507.2,412.2 508.4,413.0 509.5,413.3 511.4,413.2 512.9,412.8 514.4,411.0 516.0,410.2 517.2,409.4 518.4,408.8 519.0,407.2 519.8,405.8 520.4,405.2 521.3,406.4 522.5,406.5 524.3,407.6 524.9,410.2 526.5,409.4 528.5,408.4 530.0,409.5 531.7,408.4 533.4,408.3 535.0,406.4 536.9,407.3 538.1,408.0 540.4,409.1 541.9,409.7 543.7,408.1 544.9,407.4 546.3,407.7 548.5,408.9 550.0,409.1 551.7,408.4 553.2,408.9 554.6,410.2 555.7,411.5 557.2,412.8 559.0,413.6 560.4,413.2 561.7,414.4 562.9,413.9 564.1,413.3 565.9,412.9 567.3,411.9 568.4,411.4 570.0,410.6 571.3,410.3 572.5,408.6 573.7,408.6 575.4,407.7 576.6,406.4 578.1,406.9 579.4,405.6 580.8,405.8 582.0,405.3 583.5,404.2 585.7,403.0 587.1,402.9 588.1,403.3 589.5,404.1 590.8,403.0 592.2,402.0 593.2,401.3 594.6,400.4 595.6,399.4 597.3,399.4 599.0,400.1 600.5,400.1 602.1,401.2 603.8,402.5 605.0,402.5 607.2,400.2 608.1,400.7 610.0,399.4 611.4,400.2 612.3,400.4 613.1,401.2 614.5,403.4 616.2,403.0 618.0,403.1 619.5,404.5 620.8,405.8 622.9,407.1 624.1,408.8 625.4,410.0 626.6,411.3 628.0,411.8 629.4,411.5 630.8,411.5 632.9,413.1 634.4,415.2 635.9,414.1 637.4,414.6 639.2,414.3 641.1,415.6 642.8,417.2 644.3,418.4 646.0,416.9 647.7,416.9 648.5,414.8 649.2,414.6"/>
<polyline stroke="#008000" points="66.0,455.4 272.3,455.4 272.8,454.2 273.3,453.0 273.7,451.4 273.7,449.1 274.7,447.9 275.1,445.5 276.4,444.9 278.1,444.6 278.0,442.4 278.5,441.8 279.0,439.0 279.3,437.3 279.4,435.6 279.3,435.1 279.7,432.4 280.4,431.8 280.2,430.3 280.6,428.2 280.7,427.0 281.3,425.4 281.7,422.6 281.6,420.8 281.8,419.0 282.1,418.2 282.2,416.7 282.7,414.4 283.3,413.1 283.2,411.4 283.7,409.1 284.1,407.4 284.2,407.0 284.0,405.3 284.5,403.3 284.5,400.8 284.8,400.5 285.1,398.6 285.8,397.2 286.7,394.6 288.0,393.6 288.2,392.0 289.2,390.5 289.2,389.0 289.7,386.4 290.6,385.7 290.9,383.8 291.6,380.9 292.0,378.8 292.1,380.5 292.8,383.6 292.7,383.9 293.5,386.4 293.5,387.7 293.9,390.4 294.0,391.4 294.0,393.9 294.2,394.9 295.0,395.9 295.2,398.9 295.3,400.3 295.2,401.4 295.6,403.7 296.1,404.7 296.8,407.0 297.2,408.1 297.2,410.2 297.5,411.1 297.8,412.5 298.2,415.5 299.0,416.6 299.1,417.8 299.3,419.3 300.2,421.9 300.3,423.5 301.4,424.9 302.2,426.7 302.8,428.2 303.6,429.1 304.7,430.7 305.2,432.4 306.3,433.0 306.7,434.2 307.7,435.7 308.7,437.2 309.6,438.4 311.1,438.9 313.0,440.0 312.9,438.2 313.4,436.1 313.7,434.7 313.6,432.1 313.9,434.1 314.9,435.0 315.2,436.9 315.7,437.5 316.3,439.6 316.5,437.7 316.9,436.6 317.2,434.9 317.2,432.3 317.8,431.4 318.4,429.9 319.5,427.2 320.2,425.9 320.2,424.1 320.7,422.5 320.9,420.6 321.4,419.5 321.8,418.2 321.9,417.0 322.1,414.6 322.6,413.0 323.7,412.0 325.1,409.1 326.1,407.5 326.9,406.2 327.8,405.5 328.3,406.3 328.7,408.3 328.8,409.2 329.4,411.5 330.8,412.5 331.9,412.0 332.5,409.9 332.4,409.3 333.1,407.1 333.5,406.8 333.8,404.5 334.1,402.8 335.1,401.4 335.6,400.8 335.9,398.3 336.6,397.2 336.7,395.4 337.7,397.1 337.9,398.6 338.4,400.2 339.3,401.2 340.7,402.8 341.4,403.2 342.0,405.3 342.7,405.7 342.8,407.1 343.7,408.8 343.9,410.6 344.3,412.4 344.8,409.8 345.2,408.3 345.5,406.6 345.7,405.1 346.3,403.1 346.9,401.6 346.8,402.8 347.5,405.5 348.2,406.5 348.1,408.5 348.7,409.9 349.3,411.6 349.8,410.4 350.4,407.9 351.3,406.0 351.6,405.3 353.0,403.5 354.7,401.2 355.7,400.1 356.5,397.6 356.6,396.7 357.0,394.8 357.2,393.6 358.1,391.3 358.1,390.9 358.9,389.1 358.8,387.7 359.9,389.6 360.2,389.6 360.8,391.4 361.2,394.0 361.7,394.2 361.9,397.1 362.3,398.3 363.0,399.2 363.6,400.6 363.7,402.8 364.0,400.6 364.7,400.1 365.2,397.5 365.2,396.1 365.6,394.7 366.2,392.9 365.9,391.8 366.3,390.0 367.1,392.1 367.8,393.3 368.2,394.8 368.8,396.8 369.6,394.2 370.1,392.9 371.0,390.9 371.6,390.0 371.8,391.7 372.3,392.5 373.2,394.3 373.9,396.4 374.1,398.5 374.5,400.1 375.3,400.8 376.7,403.3 377.1,404.0 378.4,406.6 379.6,407.4 380.7,409.4 381.5,408.2 382.9,407.2 383.8,405.7 384.9,408.2 385.7,409.5 386.6,411.3 387.3,413.0 388.2,411.1 388.6,408.9 389.5,407.2 390.7,406.3 391.3,404.1 391.7,404.0 392.5,401.8 393.0,399.9 393.2,401.5 393.8,403.4 394.5,404.5 394.5,406.2 394.9,407.7 395.3,409.6 395.8,411.9 396.6,413.6 397.4,414.8 397.9,416.9 398.9,418.1 400.3,419.8 401.4,420.4 401.9,421.5 402.7,423.0 403.5,423.0 404.1,420.5 404.8,419.0 405.5,418.2 406.0,418.9 407.2,421.3 408.0,421.9 408.7,419.7 408.6,419.5 409.3,416.8 409.9,416.9 410.3,414.4 411.3,412.3 413.1,411.3 413.3,408.9 413.1,407.3 413.4,405.6 413.5,404.6 413.7,402.3 413.8,402.2 414.1,399.8 414.4,398.2 414.5,396.1 414.7,394.9 415.5,393.3 415.6,391.0 415.3,389.9 415.9,388.3 416.0,386.7 417.5,385.9 418.5,383.9 420.1,381.9 420.9,380.4 421.2,383.0 421.9,384.0 421.8,385.5 422.2,387.3 422.7,389.9 423.0,387.4 423.7,385.8 423.8,384.5 424.3,382.6 424.7,381.3 425.4,380.0 426.3,378.5 427.0,376.7 427.7,375.4 429.4,376.9 431.1,377.7 431.3,379.4 431.8,379.8 432.0,381.4 432.5,383.7 432.9,384.3 433.7,386.6 433.6,387.4 434.1,389.6 434.9,392.2 435.2,392.7 436.3,392.0 437.5,390.6 438.9,390.3 440.2,387.5 440.5,389.2 441.1,391.3 441.6,393.6 441.5,394.5 442.4,396.4 442.6,398.0 444.0,397.1 445.0,395.6 445.3,395.8 445.7,398.0 445.4,400.5 445.7,401.5 446.2,403.6 446.4,404.2 446.6,405.8 447.2,407.7 447.7,409.2 447.9,410.8 448.7,413.4 449.0,414.7 449.1,415.6 449.8,417.9 449.7,419.0 450.2,421.5 451.1,422.4 451.5,424.3 451.8,426.8 452.9,428.3 453.8,428.7 455.0,431.2 455.3,432.6 455.8,433.7 456.3,435.9 456.9,438.1 457.3,440.2 458.4,441.4 459.2,442.4 459.9,444.0 461.5,442.8 463.3,441.9 464.2,442.9 465.1,444.9 466.6,447.2 467.7,445.1 469.0,443.7 469.9,442.0 470.8,441.3 471.7,440.0 472.4,438.3 473.3,436.3 474.0,435.0 475.6,433.5 476.7,432.9 478.0,431.6 479.7,431.4 481.5,433.8 483.4,434.6 483.8,432.1 484.8,431.2 485.6,429.3 487.4,428.2 488.7,427.4 490.5,427.6 491.9,426.4 492.8,427.4 493.0,429.6 494.0,431.7 494.6,429.3 495.0,427.8 495.9,425.8 496.2,424.7 497.4,422.3 497.6,420.6 498.8,419.7 499.4,417.4 500.5,416.5 501.4,415.0 501.8,412.9 503.1,412.0 503.3,410.2 504.0,408.7 504.2,406.6 505.1,404.6 505.1,402.5 505.8,400.7 506.4,399.9 507.0,398.5 508.1,396.9 509.3,395.5 510.6,394.6 511.5,393.5 512.2,391.1 513.3,390.1 514.4,389.2 515.4,388.3 515.8,386.3 517.4,388.0 518.4,390.0 519.8,388.8 521.1,388.0 522.6,388.3 523.8,391.0 524.7,389.2 526.0,388.8 526.6,391.1 526.8,391.6 527.3,393.7 527.9,394.9 528.1,396.2 528.9,398.1 528.9,399.6 529.5,401.6 529.9,402.6 530.5,404.6 531.7,406.4 531.9,408.6 532.3,409.4 533.9,409.9 535.0,411.6 535.7,412.5 537.1,413.8 538.2,414.4 539.1,417.0 540.1,417.8 540.6,419.2 542.0,421.5 543.0,418.8 544.1,418.3 544.8,419.5 545.7,421.0 546.2,421.5 546.4,424.1 547.1,422.8 547.9,421.4 548.1,420.0 548.9,418.3 549.0,416.6 550.8,416.2 552.8,414.1 553.7,413.0 555.0,411.8 556.8,410.2 558.1,409.5 559.2,407.8 561.0,406.9 562.2,404.7 564.2,405.4 564.7,405.6 565.1,408.3 566.2,408.3 566.3,410.4 567.5,412.3 568.6,413.7 569.6,414.6 570.9,413.3 571.2,410.7 572.4,409.4 573.0,408.0 574.8,409.1 576.2,408.9 577.1,407.2 578.2,404.9 578.9,404.2 579.4,406.0 580.5,407.2 581.5,409.3 582.8,408.4 584.4,407.8 586.3,407.6 587.9,408.7 589.3,408.6 590.4,407.1 591.0,409.6 591.4,411.5 591.3,412.0 592.1,413.7 592.1,416.6 592.5,417.5 593.2,418.8 593.4,421.1 593.6,421.8 595.0,420.9 596.1,419.4 596.6,417.5 597.3,416.2 598.2,415.0 599.5,414.3 600.2,412.0 600.6,411.1 600.7,409.7 601.0,407.6 602.0,409.3 602.6,410.2 602.7,411.4 604.3,410.9 605.1,408.9 606.2,411.2 606.9,412.2 607.3,413.9 608.0,416.4 608.6,417.2 609.4,418.5 609.4,420.8 610.0,421.3 611.4,421.1 612.8,420.2 613.3,418.9 615.5,416.8 617.1,415.8 617.6,417.1 618.7,419.6 619.7,421.1 620.0,422.4 620.9,425.2 621.7,425.5 622.9,426.6 624.1,428.6 625.3,429.0 626.6,428.2 628.6,426.9 629.8,428.1 630.8,427.4 631.8,429.2 632.9,430.6 633.6,431.8 634.9,430.8 635.9,428.0 636.4,426.7 637.4,424.9 637.9,423.9 638.7,421.4 639.2,420.3 639.4,419.3 640.5,417.8 640.6,417.0 642.1,415.2 643.5,413.4 644.2,411.9 644.8,409.8 646.0,408.7 646.9,406.7 647.4,405.6 648.6,405.2 649.2,403.8"/>
<polyline stroke="#000" points="150.0,289.3 184.0,289.3 185.8,289.3 188.0,288.5 188.9,287.7 189.7,286.8 190.5,285.1 191.3,282.0 191.5,281.0 191.7,279.8 191.9,278.6 192.1,277.3 192.3,275.8 192.5,274.3 192.7,272.8 192.9,271.2 193.1,269.5 193.3,267.8 193.5,266.1 193.7,264.4 193.9,262.7 194.1,261.0 194.3,259.3 194.5,257.6 194.7,256.0 194.9,254.5 195.0,253.0 195.2,251.4 195.4,249.9 195.5,248.4 195.7,246.8 195.9,245.3 196.0,243.7 196.2,242.1 196.4,240.6 196.5,239.0 196.7,237.4 196.8,235.8 197.0,234.3 197.1,232.7 197.2,231.1 197.4,229.6 197.5,228.0 197.6,226.4 197.7,224.9 197.9,223.3 198.0,221.7 198.1,220.1 198.2,218.6 198.3,217.0 198.3,215.4 198.4,213.8 198.5,212.2 198.6,210.7 198.7,209.1 198.8,207.6 198.9,206.0 199.0,204.5 199.1,203.0 199.2,201.5 199.3,200.0 199.4,198.3 199.6,196.7 199.7,195.0 199.8,193.4 199.9,191.8 200.1,190.1 200.2,188.5 200.3,186.9 200.5,185.4 200.6,183.8 200.8,182.3 200.9,180.8 201.1,179.3 201.2,177.8 201.3,176.4 201.5,175.0 201.7,173.2 201.9,171.5 202.1,169.8 202.4,168.1 202.6,166.5 202.8,164.9 203.1,163.4 203.3,161.9 203.5,160.4 203.8,158.9 204.0,157.5 204.2,156.0 204.4,154.3 204.7,152.5 204.9,150.8 205.1,149.1 205.4,147.5 205.6,145.9 205.8,144.3 206.0,142.8 206.3,141.4 206.5,140.0 206.8,138.1 207.2,136.3 207.6,134.5 207.9,132.9 208.3,131.4 208.7,130.1 209.0,129.0 210.2,126.6 211.3,125.7 213.5,127.0 213.9,128.0 214.3,129.2 214.7,130.6 215.2,132.4 215.6,134.5 216.0,137.0 216.2,138.2 216.3,139.4 216.5,140.8 216.7,142.3 216.8,143.8 217.0,145.4 217.2,147.0 217.3,148.7 217.5,150.4 217.7,152.1 217.8,153.7 218.0,155.4 218.2,157.0 218.3,158.5 218.5,160.0 218.7,161.6 218.9,163.2 219.0,164.8 219.2,166.4 219.4,167.9 219.6,169.4 219.8,170.9 219.9,172.4 220.1,173.9 220.3,175.4 220.5,177.0 220.8,178.5 221.0,180.0 221.3,181.5 221.5,183.0 221.8,184.5 222.1,185.9 222.4,187.3 222.7,188.8 223.0,190.2 223.4,191.7 223.7,193.3 224.0,194.8 224.3,196.5 224.6,198.2 224.9,200.0 225.1,201.4 225.3,202.8 225.5,204.3 225.7,205.8 225.9,207.4 226.1,208.9 226.3,210.6 226.5,212.2 226.7,213.8 226.9,215.5 227.1,217.1 227.3,218.8 227.5,220.4 227.7,222.0 227.9,223.6 228.1,225.1 228.4,226.6 228.6,228.0 228.9,229.7 229.2,231.3 229.5,233.0 229.8,234.6 230.1,236.3 230.5,237.9 230.8,239.4 231.1,241.0 231.5,242.5 231.8,243.9 232.2,245.3 232.5,246.7 232.9,248.0 233.2,249.2 233.6,250.4 234.2,252.2 234.8,253.8 235.5,255.3 236.1,256.6 236.8,257.9 237.5,259.1 238.2,260.2 238.9,261.3 239.6,262.5 240.5,264.0 241.5,265.6 242.4,267.0 243.4,268.4 244.4,269.7 245.4,270.8 246.5,271.8 248.1,272.9 249.7,273.7 251.4,274.2 253.1,274.5 254.9,274.6 256.4,274.5 258.0,274.2 259.7,273.7 261.3,273.1 263.0,272.8 264.3,271.5 265.4,271.2 266.9,270.5 268.1,269.5 269.2,268.6 270.6,267.1 271.7,266.4 272.8,265.2 274.3,263.9 275.6,263.3 276.9,261.9 277.8,261.2 279.3,259.6 280.1,258.3 281.4,257.3 282.6,256.5 283.3,255.4 284.4,254.4 285.7,252.7 286.7,251.5 287.7,250.6 288.3,248.5 289.4,247.1 290.4,245.4 291.5,244.5 292.1,243.1 293.1,241.2 294.1,239.7 294.9,239.1 296.1,236.6 297.1,235.1 297.9,234.5 299.0,232.4 299.8,231.1 300.6,230.5 301.4,228.8 303.2,227.1 304.7,225.7 306.0,225.5 307.3,224.7 308.8,223.8 310.6,222.7 312.2,222.5 313.7,221.9 315.0,223.1 316.0,225.2 316.9,226.1 318.2,228.1 319.6,228.4 321.1,229.7 322.6,229.6 324.4,230.3 325.7,230.8 327.3,231.3 328.7,232.5 330.4,233.6 331.9,235.3 333.5,235.3 335.2,235.5 337.0,235.7 339.0,236.1 340.6,234.9 342.2,234.7 343.6,235.2 345.2,234.9 346.8,234.9 348.4,234.0 349.6,235.5 351.3,235.8 352.7,237.1 353.8,237.3 355.4,237.0 357.3,237.4 358.6,237.5 359.7,238.3 360.8,239.9 362.3,241.2 363.7,242.1 364.7,243.3 366.0,244.1 367.6,245.5 368.8,246.1 370.0,247.6 371.0,248.8 372.6,249.3 373.8,250.4 374.8,251.7 376.0,252.8 377.6,253.1 378.8,253.8 380.1,254.8 381.6,255.7 383.0,256.0 384.2,257.5 385.9,257.6 387.1,257.4 388.7,257.3 390.5,257.8 392.0,257.4 393.2,256.2 394.9,255.6 396.3,255.2 397.8,253.9 399.1,253.4 400.5,252.4 402.0,251.1 403.3,250.5 404.6,249.2 405.8,248.6 407.4,247.5 408.3,246.4 409.6,245.8 411.1,244.8 412.1,243.6 413.4,242.8 414.7,242.5 416.0,241.2 417.3,240.3 418.6,239.0 419.7,238.6 420.8,237.3 422.1,235.7 423.2,235.6 424.4,234.7 425.9,233.6 427.4,233.1 429.2,232.2 430.6,232.5 432.0,231.7 433.7,231.9 435.0,231.6 436.4,231.0 438.3,231.1 439.8,232.0 441.2,232.1 442.7,231.9 444.1,232.1 445.8,233.1 447.1,232.9 448.5,233.4 449.9,234.4 451.3,234.9 452.7,235.7 453.8,236.3 455.1,237.0 456.7,238.7 458.2,239.6 460.3,240.0 461.5,240.2 462.5,240.7 463.9,241.3 465.6,242.0 467.0,242.7 468.3,243.3 469.9,244.3 471.4,244.2 473.0,244.6 474.5,244.4 476.0,245.3 477.6,245.1 479.5,245.4 481.1,245.7 482.4,245.1 484.1,245.5 485.8,245.5 487.4,245.7 488.8,245.6 490.6,244.7 492.2,245.4 493.8,244.8 495.1,244.7 496.7,245.7 498.3,244.9 499.9,245.2 501.7,246.2 503.4,245.5 504.7,245.6 506.6,246.2 508.0,246.1 509.6,245.7 511.2,244.9 513.0,245.0 514.4,244.7 516.1,244.3 517.4,243.3 519.0,243.5 520.9,242.7 522.4,242.4 524.1,242.8 525.4,242.8 527.3,241.6 528.7,241.4 530.5,242.0 531.9,241.0 533.7,241.5 535.3,240.9 536.6,240.9 538.4,240.8 540.0,240.5 541.8,240.1 543.4,239.4 544.6,239.7 546.2,239.5 548.0,238.2 549.5,238.7 551.2,238.5 552.7,238.5 554.4,238.4 555.9,238.1 557.6,237.8 559.0,238.0 560.8,237.6 562.3,237.7 564.1,239.0 565.5,238.9 566.7,238.9 568.5,240.0 570.2,240.4 571.6,240.0 573.2,240.2 574.8,241.0 576.4,241.2 578.2,240.3 580.1,241.2 581.4,240.6 582.9,241.2 584.2,240.9 585.4,240.8 587.0,241.2 588.5,241.0 590.4,241.9 592.1,241.5 593.7,242.1 594.8,242.6 596.4,242.1 597.8,243.2 599.4,242.9 601.0,243.2 602.7,243.2 604.1,244.1 605.8,244.4 607.2,244.7 609.1,244.8 610.5,245.4 611.8,244.9 613.7,245.1 615.1,245.3 616.9,245.7 618.5,245.4 619.8,246.0 621.4,246.1 623.0,245.5 624.3,245.9 625.9,245.7 627.1,245.5 629.0,245.7 630.9,245.8 632.7,245.8 634.3,245.0 635.7,245.2 637.4,244.4 638.7,244.0 640.7,244.7 642.5,244.4 644.6,244.3 646.6,243.3 648.3,243.1 649.2,243.4 649.2,243.3"/>
<polyline stroke="#f00" points="150.0,289.3 181.0,289.3 182.2,289.3 183.9,289.2 185.5,288.5 186.4,287.7 187.3,286.8 188.1,285.1 188.9,282.0 189.1,281.0 189.3,279.8 189.5,278.6 189.7,277.3 189.8,275.8 190.0,274.3 190.2,272.8 190.4,271.2 190.6,269.5 190.7,267.8 190.9,266.1 191.1,264.4 191.3,262.7 191.4,261.0 191.6,259.3 191.7,257.6 191.9,256.0 192.0,254.5 192.2,253.0 192.3,251.4 192.5,249.9 192.6,248.4 192.7,246.8 192.9,245.3 193.0,243.7 193.1,242.1 193.2,240.6 193.3,239.0 193.5,237.4 193.6,235.8 193.7,234.3 193.8,232.7 193.9,231.1 194.0,229.6 194.1,228.0 194.2,226.5 194.3,225.0 194.4,223.6 194.4,222.2 194.5,220.8 194.6,219.5 194.7,218.1 194.7,216.8 194.8,215.4 194.9,214.0 194.9,212.5 195.0,211.0 195.0,209.4 195.1,207.7 195.2,205.9 195.2,204.1 195.3,202.1 195.4,200.0 195.4,198.8 195.5,197.6 195.5,196.3 195.6,195.0 195.6,193.6 195.7,192.2 195.7,190.8 195.8,189.4 195.8,188.0 195.9,186.5 195.9,185.0 196.0,183.4 196.0,181.9 196.0,180.3 196.1,178.8 196.1,177.2 196.2,175.6 196.2,174.0 196.3,172.4 196.3,170.7 196.4,169.1 196.4,167.5 196.5,165.9 196.5,164.2 196.6,162.6 196.6,161.0 196.7,159.4 196.7,157.8 196.8,156.2 196.8,154.6 196.9,153.1 196.9,151.5 197.0,150.0 197.1,148.5 197.1,146.9 197.2,145.3 197.2,143.7 197.3,142.1 197.3,140.5 197.4,138.9 197.4,137.2 197.5,135.6 197.5,133.9 197.6,132.2 197.6,130.6 197.7,128.9 197.7,127.2 197.8,125.6 197.8,123.9 197.9,122.3 197.9,120.7 198.0,119.1 198.0,117.5 198.1,116.0 198.1,114.4 198.2,112.9 198.2,111.5 198.3,110.0 198.4,108.6 198.4,107.3 198.5,105.9 198.5,104.7 198.6,103.4 198.7,102.2 198.7,101.1 198.8,100.0 199.0,97.4 199.2,95.1 199.4,93.0 199.6,91.2 199.8,89.5 200.0,87.9 200.2,86.6 200.4,85.3 200.7,84.1 200.9,83.0 201.1,82.0 201.3,81.0 201.5,80.0 202.1,77.3 202.7,75.5 203.3,74.6 203.8,74.3 204.4,74.8 204.9,76.6 205.5,80.0 205.6,81.0 205.8,82.0 205.9,83.0 206.0,84.1 206.2,85.3 206.3,86.6 206.4,87.9 206.6,89.5 206.7,91.2 206.9,93.0 207.1,95.1 207.3,97.4 207.6,100.0 207.7,101.1 207.8,102.2 207.9,103.4 208.1,104.7 208.2,105.9 208.3,107.3 208.5,108.6 208.6,110.0 208.7,111.5 208.9,112.9 209.0,114.4 209.2,116.0 209.3,117.5 209.5,119.1 209.7,120.7 209.8,122.3 210.0,123.9 210.1,125.6 210.3,127.2 210.5,128.9 210.6,130.6 210.8,132.2 211.0,133.9 211.1,135.6 211.3,137.2 211.4,138.9 211.6,140.5 211.8,142.1 211.9,143.7 212.1,145.3 212.2,146.9 212.4,148.5 212.5,150.0 212.6,151.5 212.8,153.1 212.9,154.7 213.1,156.4 213.2,158.0 213.4,159.7 213.5,161.4 213.7,163.1 213.8,164.9 214.0,166.6 214.1,168.3 214.3,170.1 214.4,171.8 214.6,173.5 214.7,175.3 214.8,177.0 215.0,178.7 215.1,180.3 215.3,182.0 215.4,183.6 215.5,185.1 215.7,186.7 215.8,188.2 215.9,189.6 216.1,191.0 216.2,192.4 216.3,193.6 216.4,194.9 216.6,196.0 216.7,197.1 216.8,198.2 216.9,199.1 217.0,200.0 217.9,204.3 218.5,203.7 219.3,205.0 219.5,206.0 219.7,207.2 219.9,208.4 220.1,209.8 220.3,211.3 220.5,212.8 220.7,214.5 220.9,216.1 221.2,217.8 221.4,219.6 221.7,221.3 222.0,223.0 222.3,224.7 222.6,226.4 223.0,228.0 223.3,229.4 223.7,230.9 224.1,232.4 224.5,233.9 224.9,235.5 225.4,237.0 225.8,238.6 226.3,240.2 226.8,241.7 227.3,243.2 227.7,244.7 228.2,246.2 228.7,247.6 229.2,248.9 229.7,250.2 230.1,251.4 230.6,252.5 231.5,254.4 232.3,256.1 233.2,257.6 234.1,259.0 234.9,260.2 235.8,261.3 236.7,262.4 237.6,263.5 238.5,264.5 239.7,265.8 240.9,267.0 242.1,268.1 243.4,269.0 244.6,269.9 245.8,270.7 247.0,271.5 248.6,272.4 250.2,273.3 251.8,273.9 253.4,274.4 254.9,274.6 256.4,274.6 257.9,274.4 259.4,274.0 260.9,273.4 262.3,272.4 264.0,271.6 265.4,271.1 266.7,270.3 268.2,269.1 269.7,267.6 271.1,267.5 272.2,265.8 273.7,265.5 274.9,263.7 276.3,262.2 277.5,261.4 278.4,260.1 279.8,259.7 281.0,258.3 282.5,257.0 283.7,255.6 284.6,254.7 286.1,253.8 287.1,253.0 288.2,251.6 289.4,251.0 290.3,249.5 291.2,248.7 292.1,246.8 293.0,245.3 293.6,244.6 294.2,242.9 295.0,241.6 296.1,240.2 296.9,238.5 297.6,237.4 298.3,235.7 299.2,234.8 299.9,233.2 300.5,232.0 301.7,231.3 303.1,229.5 304.5,229.2 305.9,228.4 307.5,227.7 308.8,228.3 310.9,227.9 312.9,229.3 314.4,229.8 316.0,231.9 317.2,233.8 318.3,234.4 319.6,234.8 321.3,233.2 322.4,232.3 323.9,231.7 325.4,230.6 326.6,229.8 328.1,229.0 329.8,228.2 331.0,227.1 332.5,225.4 334.0,225.2 335.4,224.6 337.1,224.2 338.8,225.0 340.5,224.7 342.5,224.4 344.4,223.8 346.1,223.9 348.1,224.4 349.8,225.6 351.4,226.0 352.4,227.8 353.6,229.5 354.6,231.8 355.1,232.7 355.7,233.9 356.6,235.6 357.6,236.9 358.3,239.0 359.5,239.2 360.7,240.2 361.8,242.3 363.3,243.1 364.1,243.8 365.3,245.3 366.7,246.5 367.9,247.0 369.4,248.9 370.7,249.7 371.9,250.7 372.9,251.5 374.2,251.9 375.4,253.1 376.7,254.5 378.2,254.9 379.9,256.6 381.5,256.8 382.8,257.3 384.4,257.5 386.2,257.8 387.8,256.5 389.4,255.6 390.8,254.3 392.4,253.6 393.5,252.3 394.5,251.7 395.9,250.8 397.4,249.3 398.5,249.0 399.9,247.2 400.8,246.2 402.4,246.0 403.4,245.1 405.0,244.0 405.9,243.0 407.3,241.4 409.2,241.1 410.4,240.4 411.9,239.5 413.5,237.9 414.8,237.1 416.3,236.6 417.8,235.6 419.2,235.5 420.8,234.5 422.4,234.6 423.9,234.3 425.4,233.7 426.9,233.1 428.4,233.3 430.0,234.0 432.0,234.0 434.0,234.4 435.7,234.5 437.3,234.8 438.6,234.5 440.2,234.2 441.9,234.4 443.3,234.8 445.0,234.7 446.3,235.0 447.7,235.6 449.2,235.9 450.7,236.9 452.2,237.4 453.7,237.5 454.9,239.0 456.6,238.9 458.0,240.0 459.3,240.3 460.6,241.3 462.4,242.0 463.6,242.3 465.4,242.2 467.1,243.5 468.3,243.9 470.0,243.8 471.7,244.5 472.9,244.3 474.7,244.4 476.1,244.6 477.9,244.5 479.4,245.1 480.7,245.1 482.5,245.5 483.9,246.2 485.8,246.4 487.1,245.7 488.7,246.5 490.3,245.9 492.0,246.8 493.7,246.2 495.0,247.1 496.8,247.0 498.2,246.5 500.1,247.0 501.4,247.6 503.3,247.5 504.6,247.4 506.2,247.1 508.0,246.1 509.6,246.2 511.1,244.7 512.8,244.2 514.2,243.6 515.8,243.2 517.5,242.9 519.3,242.6 520.8,242.2 522.3,241.7 523.9,241.5 525.7,241.8 527.1,241.5 529.0,240.8 530.5,241.0 532.0,241.2 533.6,240.6 535.3,240.9 536.7,240.6 538.5,240.1 540.0,239.6 541.4,239.2 543.0,239.7 544.7,238.9 546.2,239.4 548.2,239.1 549.5,238.5 551.1,238.6 552.7,238.5 554.4,239.0 556.3,238.5 557.6,238.9 559.1,238.3 560.5,238.4 562.3,238.7 563.8,239.0 565.2,239.2 566.7,239.7 568.2,239.7 569.9,240.2 571.6,240.8 573.3,241.1 574.8,241.5 576.3,241.0 578.3,241.0 580.1,241.7 581.1,242.0 582.9,241.8 584.3,242.1 585.5,241.9 587.1,242.3 588.8,242.4 590.3,242.6 592.0,242.5 593.5,242.0 594.8,242.6 596.3,243.3 598.0,243.4 599.5,243.7 601.0,243.3 602.7,244.4 604.2,244.5 605.8,244.3 607.4,244.7 608.7,245.0 610.5,245.2 612.1,246.2 613.5,245.8 615.1,246.3 616.8,246.4 618.4,246.0 619.8,246.4 621.6,246.6 623.0,246.3 624.3,246.7 625.9,247.2 627.3,246.8 629.1,246.9 630.9,246.3 632.7,246.0 634.4,246.5 635.5,245.6 637.4,245.8 638.9,244.7 640.6,245.2 642.5,244.5 644.4,244.2 646.7,243.5 648.3,243.7 649.2,243.5 649.2,243.3"/>
<polyline stroke="#00f" points="150.0,289.3 163.0,289.3 164.3,289.3 166.2,289.3 168.0,288.6 168.8,288.0 169.6,287.3 170.3,286.3 171.0,284.7 171.7,282.0 171.9,281.0 172.1,279.8 172.3,278.6 172.4,277.3 172.6,275.8 172.8,274.3 173.0,272.8 173.2,271.2 173.3,269.5 173.5,267.8 173.6,266.1 173.8,264.4 173.9,262.7 174.1,261.0 174.2,259.3 174.4,257.6 174.5,256.0 174.6,254.5 174.7,253.0 174.8,251.4 174.9,249.9 175.0,248.4 175.1,246.8 175.2,245.3 175.3,243.7 175.3,242.1 175.4,240.6 175.5,239.0 175.6,237.4 175.6,235.8 175.7,234.3 175.8,232.7 175.9,231.1 175.9,229.6 176.0,228.0 176.1,226.5 176.1,225.0 176.2,223.6 176.3,222.2 176.3,220.8 176.4,219.5 176.5,218.1 176.5,216.8 176.6,215.4 176.6,214.0 176.7,212.5 176.8,211.0 176.8,209.4 176.9,207.7 177.0,205.9 177.0,204.1 177.1,202.1 177.2,200.0 177.2,198.8 177.3,197.6 177.3,196.3 177.4,195.0 177.4,193.6 177.5,192.2 177.5,190.8 177.6,189.4 177.6,188.0 177.7,186.5 177.8,185.0 177.8,183.4 177.9,181.9 177.9,180.3 178.0,178.8 178.0,177.2 178.1,175.6 178.1,174.0 178.2,172.4 178.3,170.7 178.3,169.1 178.4,167.5 178.4,165.9 178.5,164.2 178.5,162.6 178.6,161.0 178.7,159.4 178.7,157.8 178.8,156.2 178.8,154.6 178.9,153.1 178.9,151.5 179.0,150.0 179.1,148.5 179.1,147.0 179.2,145.5 179.2,143.9 179.3,142.4 179.3,140.9 179.4,139.4 179.4,137.9 179.5,136.4 179.5,134.8 179.6,133.3 179.7,131.8 179.7,130.3 179.8,128.8 179.8,127.3 179.9,125.8 179.9,124.2 180.0,122.7 180.0,121.2 180.1,119.7 180.2,118.2 180.2,116.7 180.3,115.2 180.3,113.6 180.4,112.1 180.4,110.6 180.5,109.1 180.6,107.6 180.6,106.1 180.7,104.5 180.8,103.0 180.8,101.5 180.9,100.0 181.0,98.5 181.0,96.9 181.1,95.4 181.2,93.8 181.3,92.3 181.3,90.7 181.4,89.1 181.5,87.6 181.6,86.0 181.7,84.4 181.7,82.8 181.8,81.2 181.9,79.6 182.0,78.1 182.1,76.5 182.2,74.9 182.2,73.3 182.3,71.8 182.4,70.2 182.5,68.7 182.6,67.2 182.7,65.6 182.7,64.1 182.8,62.6 182.9,61.1 183.0,59.7 183.1,58.2 183.1,56.8 183.2,55.4 183.3,54.0 183.4,52.7 183.4,51.3 183.5,50.0 183.6,48.2 183.7,46.4 183.8,44.6 183.9,42.9 184.0,41.1 184.1,39.3 184.2,37.6 184.2,35.9 184.3,34.2 184.4,32.6 184.5,30.9 184.6,29.3 184.7,27.8 184.8,26.3 184.8,24.8 184.9,23.4 185.0,22.0 185.1,20.7 185.2,19.4 185.2,18.2 185.3,17.0 185.4,16.0 185.4,14.9 185.5,14.0 185.8,10.4 186.0,8.2 186.1,7.1 186.3,6.6 186.5,6.5 186.7,6.6 186.9,7.1 187.1,8.2 187.3,10.4 187.6,14.0 187.7,15.0 187.8,16.0 187.8,17.1 187.9,18.3 188.0,19.6 188.1,20.9 188.2,22.3 188.3,23.7 188.4,25.2 188.4,26.7 188.5,28.3 188.6,29.9 188.7,31.5 188.8,33.2 189.0,34.9 189.1,36.6 189.2,38.3 189.3,40.0 189.4,41.7 189.5,43.4 189.6,45.1 189.8,46.7 189.9,48.4 190.0,50.0 190.1,51.5 190.2,52.9 190.4,54.5 190.5,56.1 190.6,57.7 190.8,59.3 190.9,60.9 191.1,62.6 191.2,64.3 191.4,66.0 191.5,67.6 191.7,69.3 191.8,71.0 192.0,72.7 192.1,74.3 192.3,75.9 192.4,77.5 192.6,79.1 192.7,80.6 192.8,82.1 193.0,83.6 193.1,85.0 193.2,86.3 193.3,87.6 193.4,88.8 193.5,89.9 193.6,91.0 193.8,93.6 194.0,95.4 194.0,96.7 194.1,97.7 194.1,98.5 194.2,99.5 194.2,100.9 194.3,102.8 194.5,105.6 194.6,106.6 194.6,107.8 194.7,108.9 194.8,110.2 194.8,111.4 194.9,112.8 195.0,114.1 195.1,115.5 195.2,117.0 195.2,118.5 195.3,120.0 195.4,121.6 195.5,123.2 195.6,124.8 195.7,126.4 195.8,128.1 195.9,129.7 196.0,131.4 196.1,133.1 196.2,134.8 196.3,136.5 196.4,138.2 196.5,139.9 196.5,141.6 196.6,143.3 196.7,145.0 196.8,146.7 196.9,148.4 197.0,150.0 197.1,151.4 197.2,152.9 197.2,154.4 197.3,155.9 197.4,157.5 197.4,159.0 197.5,160.6 197.6,162.2 197.7,163.8 197.7,165.4 197.8,167.1 197.9,168.7 198.0,170.3 198.0,172.0 198.1,173.6 198.2,175.2 198.3,176.8 198.3,178.4 198.4,180.0 198.5,181.6 198.6,183.2 198.6,184.8 198.7,186.3 198.8,187.8 198.9,189.3 198.9,190.7 199.0,192.2 199.1,193.6 199.2,194.9 199.3,196.3 199.3,197.5 199.4,198.8 199.5,200.0 199.7,202.1 199.8,204.1 200.0,206.0 200.1,207.8 200.3,209.5 200.4,211.2 200.6,212.7 200.8,214.3 200.9,215.7 201.1,217.1 201.3,218.5 201.4,219.9 201.6,221.2 201.8,222.6 202.0,223.9 202.1,225.3 202.3,226.6 202.5,228.0 202.7,229.7 203.0,231.3 203.2,233.0 203.4,234.6 203.6,236.2 203.9,237.8 204.1,239.4 204.4,240.9 204.6,242.4 204.9,243.8 205.1,245.2 205.4,246.6 205.7,247.9 205.9,249.2 206.2,250.4 206.7,252.3 207.2,254.0 207.7,255.6 208.2,257.1 208.7,258.5 209.2,259.8 209.8,261.1 210.3,262.2 210.9,263.4 211.8,265.0 212.6,266.4 213.5,267.7 214.5,268.8 215.4,269.9 216.5,270.9 217.9,272.0 219.4,273.0 221.0,273.9 222.5,274.7 224.0,275.6 225.4,276.6 226.7,277.7 227.9,278.8 229.2,279.5 230.5,279.9 232.1,279.5 233.7,278.5 235.3,277.3 237.0,276.5 238.5,276.2 240.1,276.1 241.8,276.1 243.3,276.1 244.5,276.1 246.1,276.6 247.5,276.5 248.4,275.8 249.4,274.9 250.5,273.7 251.7,272.4 253.0,270.9 254.0,269.8 255.1,268.6 256.2,267.4 257.3,266.0 258.4,264.6 259.5,263.2 260.5,261.6 261.2,260.3 261.8,259.0 262.3,258.2 262.9,256.5 263.4,254.5 264.4,253.0 264.8,251.7 265.4,250.1 266.0,248.9 266.5,246.9 267.0,245.6 267.8,244.8 268.4,242.5 269.0,241.9 269.6,240.0 270.4,238.5 271.0,237.1 271.7,235.6 272.6,234.2 272.8,232.4 273.8,231.7 274.5,230.4 275.7,228.5 276.8,226.4 277.6,225.7 278.4,224.4 279.2,223.3 280.2,222.9 283.1,223.3 283.6,221.4 284.6,219.7 285.5,219.1 286.7,219.6 287.8,220.5 288.9,222.4 290.3,224.2 291.4,225.9 292.7,226.6 293.5,227.9 294.8,230.1 295.9,231.1 297.3,231.4 298.9,232.9 300.2,234.0 301.8,234.8 303.4,235.3 305.0,235.2 306.3,234.8 307.9,234.8 309.5,234.5 310.9,233.8 312.7,232.5 313.7,231.8 315.2,231.4 316.6,229.7 317.4,228.0 317.9,226.5 318.5,224.4 319.0,223.4 319.7,221.6 320.1,221.0 321.7,219.4 323.5,220.0 325.2,220.2 326.6,221.6 327.8,222.0 328.7,223.9 329.7,225.0 330.4,226.4 331.3,227.7 332.3,228.7 333.3,230.6 334.2,231.0 335.0,232.7 335.9,234.6 337.1,235.4 337.9,236.3 338.5,237.9 339.5,239.4 340.0,240.7 341.2,242.2 342.0,243.9 342.5,244.6 343.3,246.7 343.9,248.1 344.9,249.1 345.5,251.1 346.2,251.9 347.0,253.2 347.4,255.4 348.4,255.8 349.2,257.7 350.6,259.0 351.7,260.2 352.7,260.9 353.6,261.5 355.5,262.7 357.4,263.1 359.1,263.7 360.6,263.0 362.0,262.8 363.6,261.4 365.4,260.7 366.7,260.1 368.0,258.7 369.5,258.3 370.7,256.7 371.9,256.1 373.2,254.9 374.4,254.4 375.5,253.3 376.9,252.8 378.2,251.7 379.1,250.6 380.5,249.0 381.7,248.9 383.1,247.9 384.0,246.5 385.6,245.5 386.6,243.7 388.1,243.5 389.3,241.9 390.6,241.2 391.8,239.8 392.8,238.3 394.1,237.2 395.4,235.9 396.7,235.2 397.9,234.2 399.5,233.6 401.2,232.5 402.5,232.1 404.0,232.0 405.5,230.6 407.2,230.7 408.9,229.9 410.1,229.7 411.7,228.9 413.6,228.9 415.6,228.7 417.0,228.2 418.6,228.4 420.1,228.7 421.6,230.0 422.9,230.7 424.1,231.8 425.1,233.3 426.1,234.6 427.2,235.1 428.6,236.4 429.7,237.6 431.2,237.9 432.9,239.3 434.5,240.2 436.0,240.8 437.2,241.9 438.9,243.0 440.4,243.1 441.8,243.7 443.2,245.3 444.7,245.5 446.3,245.3 447.8,245.5 449.1,246.3 450.5,246.8 452.2,246.5 454.0,245.8 455.6,245.6 456.9,246.1 458.4,245.5 460.5,245.3 462.1,244.0 463.7,243.7 465.2,243.5 467.6,243.7 468.8,243.4 470.2,244.2 472.2,243.9 473.7,243.9 475.6,244.2 477.4,244.3 478.8,245.1 480.6,245.7 481.8,245.9 483.1,246.7 484.5,247.5 485.7,248.0 487.1,248.3 488.6,249.0 490.0,249.1 491.7,248.9 493.1,248.7 494.7,247.9 496.1,248.0 497.6,247.4 499.5,246.1 501.1,245.4 502.5,244.7 503.5,243.9 505.0,243.3 506.2,243.4 507.7,242.4 509.0,241.7 510.2,241.3 511.8,241.0 513.4,240.7 514.9,240.5 516.5,239.8 518.3,240.1 520.1,239.9 521.8,239.1 523.1,238.6 524.9,239.4 526.6,238.6 528.2,238.9 529.6,238.8 531.2,237.9 532.6,238.2 534.6,237.5 536.1,237.6 537.6,236.8 539.2,236.2 540.5,236.0 542.2,235.1 543.9,235.2 545.4,235.0 546.7,234.6 548.1,234.3 549.4,233.9 551.1,234.6 552.6,234.8 554.2,235.1 555.6,235.1 557.0,235.1 558.6,236.1 559.8,236.5 561.4,237.9 563.0,238.1 564.6,239.3 565.9,239.8 567.7,240.1 568.8,241.2 570.6,242.1 572.0,242.3 573.3,242.1 575.1,242.5 576.3,242.5 578.0,242.5 580.2,243.0 581.1,242.8 582.8,242.7 584.0,242.5 585.5,242.8 587.1,242.3 588.8,242.5 590.3,242.5 592.0,242.5 593.5,242.9 594.9,243.1 596.3,243.1 598.1,243.4 599.7,243.8 601.0,243.4 602.7,244.0 604.2,243.8 605.8,243.8 607.3,243.7 608.8,243.9 610.5,243.6 611.8,244.5 613.5,244.4 615.3,244.5 616.8,244.8 618.4,244.3 619.8,244.0 621.6,244.9 622.9,244.5 624.5,244.6 625.8,245.0 627.2,244.7 629.2,244.4 631.0,244.0 632.6,244.3 634.2,243.8 635.6,243.4 637.1,243.3 638.9,243.6 640.8,243.3 642.7,242.7 644.5,242.6 646.5,242.9 648.2,242.7 649.2,242.6 649.2,242.5"/>
<polyline stroke="#ff8000" points="150.0,289.3 178.0,289.3 179.5,289.3 181.5,288.5 182.4,287.7 183.2,286.8 184.0,285.1 184.8,282.0 185.0,281.0 185.2,279.8 185.3,278.6 185.5,277.3 185.7,275.8 185.9,274.3 186.1,272.8 186.2,271.2 186.4,269.5 186.6,267.8 186.7,266.1 186.9,264.4 187.1,262.7 187.2,261.0 187.3,259.3 187.5,257.6 187.6,256.0 187.7,254.5 187.8,253.0 187.9,251.4 188.0,249.9 188.1,248.4 188.2,246.8 188.2,245.3 188.3,243.7 188.4,242.1 188.4,240.6 188.5,239.0 188.5,237.4 188.6,235.8 188.7,234.3 188.7,232.7 188.8,231.1 188.8,229.6 188.9,228.0 189.0,226.5 189.0,225.0 189.1,223.6 189.2,222.2 189.2,220.8 189.3,219.5 189.3,218.1 189.4,216.8 189.4,215.4 189.5,214.0 189.6,212.5 189.6,211.0 189.7,209.4 189.7,207.7 189.8,205.9 189.9,204.1 189.9,202.1 190.0,200.0 190.0,198.8 190.1,197.6 190.1,196.3 190.2,195.0 190.2,193.6 190.2,192.2 190.3,190.8 190.3,189.4 190.4,188.0 190.4,186.5 190.5,185.0 190.5,183.4 190.6,181.9 190.6,180.3 190.6,178.8 190.7,177.2 190.7,175.6 190.8,174.0 190.8,172.4 190.9,170.7 190.9,169.1 191.0,167.5 191.0,165.9 191.1,164.2 191.1,162.6 191.2,161.0 191.2,159.4 191.3,157.8 191.3,156.2 191.4,154.6 191.4,153.1 191.5,151.5 191.5,150.0 191.5,148.5 191.6,147.0 191.6,145.5 191.7,143.9 191.7,142.4 191.8,140.9 191.8,139.4 191.9,137.9 192.0,136.4 192.0,134.8 192.1,133.3 192.1,131.8 192.2,130.3 192.2,128.8 192.3,127.3 192.3,125.8 192.4,124.2 192.4,122.7 192.5,121.2 192.5,119.7 192.6,118.2 192.6,116.7 192.7,115.2 192.7,113.6 192.8,112.1 192.8,110.6 192.9,109.1 192.9,107.6 193.0,106.1 193.0,104.5 193.1,103.0 193.1,101.5 193.2,100.0 193.3,98.5 193.3,96.9 193.4,95.4 193.4,93.8 193.5,92.2 193.5,90.5 193.6,88.9 193.6,87.3 193.7,85.6 193.7,84.0 193.8,82.3 193.8,80.7 193.9,79.0 193.9,77.4 194.0,75.8 194.0,74.1 194.1,72.5 194.1,70.9 194.2,69.3 194.2,67.7 194.3,66.2 194.3,64.7 194.3,63.2 194.4,61.7 194.4,60.2 194.5,58.8 194.5,57.4 194.6,56.1 194.6,54.8 194.7,53.5 194.7,52.3 194.8,51.1 194.8,50.0 194.9,47.6 195.0,45.4 195.1,43.4 195.2,41.4 195.3,39.6 195.3,37.9 195.4,36.3 195.5,34.9 195.6,33.5 195.7,32.2 195.7,31.0 195.8,29.9 195.9,28.9 195.9,27.9 196.0,27.0 196.3,23.8 196.6,23.6 197.5,24.2 197.8,25.2 198.1,26.8 198.5,30.0 198.6,31.0 198.8,32.0 198.9,33.0 199.1,34.1 199.2,35.3 199.4,36.6 199.6,37.9 199.7,39.5 199.9,41.2 200.1,43.0 200.3,45.1 200.6,47.4 200.8,50.0 200.9,51.1 201.0,52.2 201.1,53.4 201.2,54.7 201.3,55.9 201.4,57.3 201.6,58.6 201.7,60.0 201.8,61.5 201.9,62.9 202.0,64.4 202.2,66.0 202.3,67.5 202.4,69.1 202.6,70.7 202.7,72.3 202.8,73.9 203.0,75.6 203.1,77.2 203.2,78.9 203.4,80.6 203.5,82.2 203.6,83.9 203.7,85.6 203.9,87.2 204.0,88.9 204.1,90.5 204.2,92.1 204.4,93.7 204.5,95.3 204.6,96.9 204.7,98.5 204.8,100.0 204.9,101.5 205.0,103.0 205.1,104.5 205.2,106.1 205.3,107.6 205.4,109.1 205.5,110.6 205.6,112.1 205.7,113.6 205.8,115.2 205.9,116.7 205.9,118.2 206.0,119.7 206.1,121.2 206.2,122.7 206.3,124.2 206.4,125.8 206.5,127.3 206.5,128.8 206.6,130.3 206.7,131.8 206.8,133.3 206.9,134.8 206.9,136.4 207.0,137.9 207.1,139.4 207.2,140.9 207.3,142.4 207.4,143.9 207.4,145.5 207.5,147.0 207.6,148.5 207.7,150.0 207.8,151.5 207.9,153.1 208.0,154.6 208.0,156.2 208.1,157.8 208.2,159.4 208.3,161.0 208.4,162.6 208.5,164.2 208.5,165.9 208.6,167.5 208.7,169.1 208.8,170.7 208.9,172.4 209.0,174.0 209.0,175.6 209.1,177.2 209.2,178.8 209.3,180.3 209.4,181.9 209.5,183.4 209.5,185.0 209.6,186.5 209.7,188.0 209.8,189.4 209.9,190.8 210.0,192.2 210.1,193.6 210.1,195.0 210.2,196.3 210.3,197.6 210.4,198.8 210.5,200.0 210.7,202.1 210.8,204.1 211.0,206.0 211.2,207.9 211.3,209.6 211.5,211.3 211.6,212.9 211.8,214.5 212.0,216.0 212.2,217.4 212.3,218.8 212.5,220.2 212.7,221.5 212.9,222.8 213.1,224.1 213.3,225.4 213.5,226.7 213.7,228.0 214.0,229.9 214.4,231.7 214.7,233.4 215.1,235.0 215.5,236.5 215.9,238.0 216.3,239.5 216.7,240.9 217.1,242.3 217.5,243.7 218.0,245.1 218.4,246.6 218.9,248.2 219.3,249.9 219.8,251.7 220.3,253.4 220.8,255.1 221.3,256.7 221.8,258.3 222.3,259.8 222.9,261.1 223.4,262.4 224.0,263.4 225.4,265.1 227.0,266.3 228.6,266.9 230.1,267.3 231.4,267.5 233.0,267.1 234.3,266.0 236.0,265.3 237.6,265.3 239.5,265.5 241.4,265.8 243.2,266.0 244.5,266.2 245.6,266.2 247.1,265.9 249.1,265.5 251.2,265.3 252.8,265.3 254.4,265.5 256.0,265.7 257.7,266.2 259.0,266.9 260.3,267.9 261.6,268.9 262.9,269.5 264.1,270.4 265.5,269.8 267.4,268.7 268.7,268.4 270.0,267.1 271.8,266.1 273.1,264.9 274.1,263.8 275.6,263.5 276.9,262.2 278.0,261.0 279.0,259.5 280.5,258.8 281.5,256.9 282.5,256.0 283.6,255.5 284.7,254.5 286.1,252.5 287.0,252.0 288.0,250.9 289.5,249.4 290.4,248.1 291.2,247.8 291.9,245.5 292.6,244.7 293.4,242.8 294.4,242.3 295.2,240.4 296.1,238.8 296.9,237.4 297.8,236.9 298.5,235.2 299.6,233.5 300.5,233.3 301.8,231.3 303.1,231.1 304.3,229.8 305.7,228.7 307.6,228.4 309.1,227.5 310.4,228.4 312.0,228.3 313.5,229.4 315.0,228.9 316.6,229.7 318.0,230.0 319.6,230.6 321.0,231.4 322.4,231.9 323.8,232.0 326.1,231.4 327.9,230.5 329.7,229.8 330.9,229.6 332.4,228.0 334.0,227.0 335.3,225.7 336.6,224.5 337.4,223.8 338.6,222.5 340.0,221.6 340.8,221.9 342.0,224.1 343.5,226.6 344.7,226.8 346.3,227.8 347.5,229.4 349.2,230.3 349.9,232.3 351.0,233.5 351.9,235.0 352.6,237.3 353.4,238.7 353.6,239.6 354.4,241.6 354.7,243.1 355.1,244.7 355.4,246.2 356.5,248.0 357.5,249.0 358.8,251.3 360.0,252.5 361.0,253.7 362.8,254.5 364.0,255.5 365.6,255.8 366.9,256.9 368.5,257.7 370.5,257.2 372.5,257.4 373.8,257.4 375.1,256.9 376.8,256.6 378.3,255.9 380.0,255.1 381.6,254.0 382.9,254.1 384.4,253.3 385.6,252.5 387.3,251.8 388.6,251.4 390.3,250.9 391.6,250.4 393.2,249.6 394.6,249.0 396.3,248.1 398.0,247.1 399.1,245.6 400.6,245.1 402.1,243.5 403.5,242.5 405.4,242.5 406.6,241.4 408.2,240.2 409.6,239.3 410.8,238.0 412.2,236.9 413.4,236.7 414.5,234.8 416.1,233.8 417.1,234.0 418.8,232.7 420.1,232.3 421.7,232.6 423.4,232.3 424.8,232.2 426.8,231.4 428.6,229.7 430.1,229.6 431.6,230.2 432.8,231.3 434.2,231.4 435.7,232.6 437.2,233.4 438.6,233.9 440.2,234.9 441.6,235.9 443.2,236.6 445.2,236.2 447.1,236.3 448.8,236.5 450.8,236.8 452.3,236.4 453.7,236.9 455.0,237.6 456.7,238.3 458.1,238.6 459.8,237.9 461.5,238.0 463.0,237.7 464.2,238.6 465.5,237.8 467.2,238.1 469.4,239.7 470.6,239.4 472.2,239.9 473.5,240.5 475.3,240.5 477.0,241.2 478.6,242.1 480.2,242.8 481.1,243.7 482.5,244.4 484.2,245.5 485.5,246.5 486.6,246.6 488.0,247.8 489.5,247.9 491.3,248.2 492.8,248.6 494.5,248.1 495.7,249.0 497.4,248.5 498.8,248.9 500.5,250.1 501.8,249.7 503.4,250.2 505.0,250.9 506.4,250.5 507.7,249.5 509.2,249.4 510.6,249.2 512.4,248.6 513.8,248.5 515.0,247.3 517.0,247.1 518.6,245.8 520.0,246.0 521.6,245.0 523.4,243.7 524.6,243.6 526.4,242.0 528.1,241.3 529.3,240.5 530.7,240.0 532.6,239.4 534.1,238.5 535.1,238.2 536.7,238.0 538.5,238.2 539.8,238.6 541.5,238.8 542.8,238.4 544.8,238.6 546.2,239.0 547.8,239.5 549.7,238.8 551.4,239.2 552.7,239.2 554.6,238.8 555.7,238.5 557.3,238.6 559.0,238.8 560.6,237.7 562.3,237.5 563.9,237.3 565.6,237.4 567.6,236.8 569.1,236.5 570.7,236.5 571.8,236.7 573.7,236.1 575.3,237.4 577.2,237.3 578.6,238.2 579.8,238.4 581.7,238.6 582.8,237.8 584.4,237.8 585.9,237.7 587.4,237.8 588.5,239.1 589.6,240.0 591.4,240.3 593.5,241.3 594.8,241.5 595.9,241.9 597.7,241.8 598.9,241.5 600.6,241.5 602.4,242.0 604.1,241.9 605.6,242.8 607.3,242.5 608.6,242.7 610.4,243.5 612.2,243.7 613.7,243.1 614.9,243.6 616.5,243.7 618.4,244.1 620.0,244.6 621.4,245.5 622.8,245.6 624.5,245.6 625.7,245.9 627.4,245.4 629.1,245.9 630.9,245.9 632.6,245.3 634.2,245.5 635.7,245.1 637.3,244.7 638.7,244.4 640.8,244.6 642.4,244.1 644.6,244.0 646.3,243.9 648.3,243.6 649.2,243.4 649.2,243.3"/>
<polyline stroke="#800080" points="66.0,289.3 160.0,289.3 161.3,289.2 163.1,288.9 165.0,288.6 166.7,288.3 168.3,287.8 170.0,287.0 171.4,286.4 172.8,285.7 174.2,284.4 175.4,282.0 175.7,280.9 176.1,279.7 176.4,278.3 176.7,276.7 176.9,275.1 177.2,273.4 177.5,271.7 177.8,269.9 178.0,268.1 178.3,266.4 178.6,264.7 178.9,263.1 179.2,261.6 179.6,259.9 180.0,258.2 180.4,256.6 180.8,254.9 181.2,253.3 181.6,251.7 182.0,250.2 182.5,248.8 182.9,247.4 183.3,246.0 183.8,244.8 184.6,243.1 185.4,241.8 186.2,240.6 187.0,239.6 187.8,238.4 188.6,237.1 189.4,235.4 189.9,234.2 190.3,232.8 190.8,231.4 191.2,229.9 191.7,228.4 192.1,226.8 192.5,225.2 192.9,223.6 193.3,222.0 193.7,220.3 194.1,218.7 194.4,217.2 194.7,215.7 195.1,214.2 195.3,212.7 195.6,211.1 195.9,209.6 196.2,208.0 196.4,206.4 196.7,204.8 197.0,203.2 197.2,201.6 197.5,200.0 197.7,198.5 198.0,196.9 198.2,195.4 198.5,193.8 198.7,192.2 198.9,190.6 199.1,189.0 199.4,187.4 199.6,185.8 199.8,184.3 200.0,182.8 200.3,181.4 200.5,180.0 200.8,178.3 201.1,176.6 201.4,174.9 201.7,173.3 202.0,171.7 202.2,170.2 202.5,168.8 202.9,167.4 203.2,166.2 203.5,165.0 204.2,162.9 204.9,161.0 205.7,159.5 206.5,158.4 207.2,157.8 208.3,157.9 209.4,159.3 210.5,162.0 210.8,163.1 211.2,164.3 211.5,165.7 211.8,167.3 212.1,168.9 212.5,170.6 212.8,172.4 213.2,174.2 213.6,176.1 214.0,178.0 214.3,179.3 214.6,180.6 214.9,181.9 215.3,183.3 215.6,184.7 216.0,186.1 216.3,187.5 216.7,189.0 217.1,190.5 217.4,192.0 217.8,193.5 218.2,195.1 218.6,196.7 218.9,198.3 219.3,200.0 219.6,201.3 219.9,202.7 220.2,204.1 220.4,205.6 220.7,207.0 221.0,208.5 221.3,210.0 221.6,211.6 221.9,213.1 222.2,214.6 222.5,216.2 222.8,217.7 223.1,219.2 223.4,220.7 223.7,222.2 224.0,223.7 224.3,225.2 224.6,226.6 224.9,228.0 225.3,229.6 225.7,231.3 226.0,232.9 226.4,234.6 226.8,236.2 227.2,237.9 227.6,239.5 228.0,241.1 228.4,242.6 228.8,244.2 229.3,245.7 229.7,247.1 230.1,248.5 230.5,249.8 231.0,251.0 231.4,252.2 232.2,254.1 233.0,255.8 233.8,257.4 234.6,258.8 235.4,260.1 236.3,261.3 237.1,262.4 238.0,263.4 238.9,264.4 240.3,265.8 241.7,266.9 243.2,267.8 244.7,268.7 246.1,269.4 247.5,270.0 249.1,270.7 250.5,271.2 252.0,271.6 253.4,271.8 254.9,271.8 256.4,271.6 257.9,271.2 259.4,270.6 260.9,269.9 262.4,269.0 263.7,268.2 264.9,267.2 266.2,266.1 267.4,264.9 268.7,263.7 269.9,262.5 271.0,261.4 272.0,260.2 273.1,259.0 274.1,257.7 275.2,256.5 276.2,255.3 277.3,254.1 278.4,253.0 279.4,251.9 280.5,250.9 281.6,249.8 282.7,248.8 283.7,247.7 284.8,246.6 285.9,245.4 286.9,244.2 288.0,243.0 289.0,241.8 290.1,240.6 291.1,239.4 292.2,238.2 293.3,237.1 294.3,235.9 295.4,234.8 296.5,233.7 297.6,232.6 298.6,231.7 299.7,230.8 301.2,229.8 302.7,228.9 304.3,228.2 305.8,227.6 307.2,227.1 308.9,226.5 310.5,226.0 312.1,225.7 313.7,225.7 315.3,226.0 316.9,226.6 318.5,227.3 320.2,228.0 321.6,228.5 323.1,229.1 324.7,229.7 326.2,230.2 327.7,230.8 329.2,231.4 330.7,232.0 332.1,232.6 333.6,233.1 335.1,233.6 336.6,234.0 338.1,234.4 339.6,234.8 341.1,235.1 342.6,235.4 344.5,235.6 346.3,235.6 348.1,235.8 350.0,236.4 351.2,237.2 352.5,238.2 353.8,239.4 355.0,240.6 356.3,241.8 357.5,242.9 358.7,243.9 360.0,244.9 361.2,245.9 362.4,246.8 363.7,247.7 364.9,248.5 366.4,249.4 367.9,250.2 369.4,250.9 370.9,251.6 372.4,252.2 373.9,252.8 375.4,253.4 376.9,254.0 378.4,254.4 379.9,254.7 381.8,254.8 383.6,254.8 385.4,254.5 387.3,254.1 388.8,253.6 390.3,252.9 391.8,252.1 393.3,251.3 394.8,250.4 396.3,249.5 397.8,248.6 399.2,247.6 400.7,246.7 402.2,245.7 403.7,244.8 405.2,243.8 406.7,242.9 408.2,241.9 409.7,241.0 411.2,240.0 412.7,239.1 414.2,238.1 415.7,237.2 417.2,236.4 418.7,235.7 420.2,235.0 421.6,234.5 423.1,234.0 424.6,233.6 426.1,233.3 427.6,233.2 429.1,233.1 430.6,233.1 432.1,233.2 433.6,233.4 435.1,233.6 436.6,233.9 438.1,234.2 439.6,234.5 441.5,234.7 443.3,234.9 445.1,235.1 447.0,235.4 448.5,235.8 450.0,236.4 451.5,237.0 453.0,237.6 454.5,238.2 456.0,238.8 457.4,239.5 458.8,240.2 460.3,240.9 461.9,241.4 463.3,241.7 464.8,242.0 466.3,242.2 467.9,242.4 469.5,242.6 471.2,242.9 472.7,243.2 474.3,243.4 475.9,243.7 477.5,244.0 479.1,244.3 480.8,244.6 482.4,244.8 484.0,245.0 485.6,245.2 487.2,245.3 488.8,245.4 490.4,245.5 492.0,245.6 493.6,245.7 495.2,245.8 496.8,245.8 498.4,245.9 500.0,245.9 501.6,245.9 503.2,245.9 504.8,245.7 506.4,245.4 508.0,245.1 509.6,244.6 511.2,244.2 512.8,243.7 514.4,243.3 516.0,242.9 517.6,242.6 519.2,242.3 520.8,242.0 522.4,241.8 524.0,241.5 525.6,241.3 527.2,241.0 528.8,240.7 530.4,240.5 532.0,240.2 533.6,239.9 535.2,239.7 536.8,239.4 538.4,239.2 540.0,239.0 541.6,238.8 543.2,238.7 544.8,238.5 546.4,238.4 548.0,238.3 549.6,238.2 551.2,238.1 552.8,238.1 554.5,238.0 556.1,238.0 557.7,238.0 559.2,238.1 560.7,238.2 562.4,238.4 564.0,238.8 565.6,239.1 567.2,239.5 568.6,239.9 570.0,240.1 571.6,240.2 572.9,240.2 574.5,240.2 576.8,240.3 578.0,240.4 579.2,240.5 580.7,240.6 582.2,240.8 583.8,240.9 585.4,241.1 587.1,241.3 588.7,241.4 590.4,241.6 592.0,241.8 593.6,242.0 595.1,242.2 596.7,242.4 598.2,242.7 599.7,242.9 601.2,243.2 602.8,243.4 604.3,243.7 605.8,243.9 607.3,244.1 608.9,244.3 610.4,244.5 611.9,244.7 613.5,244.8 615.1,245.0 616.7,245.1 618.3,245.3 619.9,245.4 621.5,245.5 623.0,245.6 624.5,245.6 625.9,245.7 627.2,245.7 629.1,245.7 630.9,245.5 632.6,245.4 634.1,245.1 635.7,244.9 637.3,244.7 638.9,244.5 640.7,244.3 642.6,244.1 644.6,243.9 646.5,243.7 648.2,243.6 649.2,243.4 649.2,243.3"/>
</g>
<line x1="253.5" y1="270" x2="253.5" y2="465.5" stroke="#f00" stroke-width="1.7"/>
<g font-size="24" text-anchor="middle">
<text transform="translate(64.5,502.8) scale(0.96,1.04)">0</text>
<text transform="translate(181.7,502.8) scale(0.96,1.04)">2</text>
<text transform="translate(299.0,502.8) scale(0.96,1.04)">4</text>
<text transform="translate(416.2,502.8) scale(0.96,1.04)">6</text>
<text transform="translate(533.5,502.8) scale(0.96,1.04)">8</text>
<text transform="translate(650.7,502.8) scale(0.96,1.04)">10</text>
</g><g font-size="24" text-anchor="end">
<text transform="translate(46.6,462.4) scale(0.96,1.06)">0</text>
<text transform="translate(46.6,367.5) scale(0.96,1.06)">2</text>
<text transform="translate(46.6,272.5) scale(0.96,1.06)">4</text>
<text transform="translate(46.6,177.6) scale(0.96,1.06)">6</text>
<text transform="translate(46.6,82.6) scale(0.96,1.06)">8</text>
</g>
<text font-size="24" transform="translate(20,247.5) rotate(-90) scale(1.05,1.02)" text-anchor="middle">PCF</text>
<text font-size="24" transform="translate(247.4,527.4) scale(1,1.03)" textLength="181.6" lengthAdjust="spacingAndGlyphs">Atomic distance</text>
<g font-size="24" text-anchor="middle"><text transform="translate(440.9,526.6) scale(0.85,1)">(</text><text style="font-family:'Liberation Serif',serif" transform="translate(454,526.7) scale(1,1.10)">Å</text><text transform="translate(466.6,526.6) scale(0.85,1)">)</text></g>
<text font-size="22" transform="translate(268.6,288.5) scale(1,1.03)" textLength="199.2" lengthAdjust="spacingAndGlyphs">Cut-off for bonding</text>
<rect x="397.5" y="8.5" width="237" height="216" fill="#fff" stroke="#3a3a3a" stroke-width="1"/>
<g font-size="18">
<text x="433" y="33.6">Top</text><text x="546.5" y="33.6">Bottom</text>
<line x1="402.2" x2="443.5" y1="51.5" y2="51.5" stroke="#000" stroke-width="3.4" stroke-linecap="round"/>
<text x="449.3" y="57.8">g<tspan font-size="10.5" dy="7.2">Fe-Fe</tspan><tspan dy="-7.2">(r)</tspan></text>
<line x1="402.2" x2="443.5" y1="82.7" y2="82.7" stroke="#f00" stroke-width="3.4" stroke-linecap="round"/>
<text x="449.3" y="89.0">g<tspan font-size="10.5" dy="7.2">Fe-Si</tspan><tspan dy="-7.2">(r)</tspan></text>
<line x1="402.2" x2="443.5" y1="113.8" y2="113.8" stroke="#00f" stroke-width="3.4" stroke-linecap="round"/>
<text x="449.3" y="120.1">g<tspan font-size="10.5" dy="7.2">Fe-B</tspan><tspan dy="-7.2">(r)</tspan></text>
<line x1="402.2" x2="443.5" y1="144.9" y2="144.9" stroke="#ff8000" stroke-width="3.4" stroke-linecap="round"/>
<text x="449.3" y="151.2">g<tspan font-size="10.5" dy="7.2">Fe-P</tspan><tspan dy="-7.2">(r)</tspan></text>
<line x1="402.2" x2="443.5" y1="176.1" y2="176.1" stroke="#800080" stroke-width="3.4" stroke-linecap="round"/>
<text x="449.3" y="182.4">g<tspan font-size="10.5" dy="7.2">total</tspan><tspan dy="-7.2">(r)</tspan></text>
<line x1="528.8" x2="571.4" y1="51.5" y2="51.5" stroke="#000" stroke-width="3.4" stroke-linecap="round"/>
<text x="576.7" y="57.8">g<tspan font-size="10.5" dy="7.2">Si-Si</tspan><tspan dy="-7.2">(r)</tspan></text>
<line x1="532.3" x2="574.4" y1="82.7" y2="82.7" stroke="#f00" stroke-width="3.4" stroke-linecap="round"/>
<text x="579.7" y="89.0">g<tspan font-size="10.5" dy="7.2">Si-B</tspan><tspan dy="-7.2">(r)</tspan></text>
<line x1="535.3" x2="576.5" y1="113.8" y2="113.8" stroke="#00f" stroke-width="3.4" stroke-linecap="round"/>
<text x="581.8" y="120.1">g<tspan font-size="10.5" dy="7.2">Si-P</tspan><tspan dy="-7.2">(r)</tspan></text>
<line x1="533.1" x2="575.7" y1="144.9" y2="144.9" stroke="#ff8000" stroke-width="3.4" stroke-linecap="round"/>
<text x="581.0" y="151.2">g<tspan font-size="10.5" dy="7.2">B-B</tspan><tspan dy="-7.2">(r)</tspan></text>
<line x1="533.1" x2="575.7" y1="176.1" y2="176.1" stroke="#800080" stroke-width="3.4" stroke-linecap="round"/>
<text x="581.0" y="182.4">g<tspan font-size="10.5" dy="7.2">B-P</tspan><tspan dy="-7.2">(r)</tspan></text>
<line x1="533.1" x2="575.7" y1="207.2" y2="207.2" stroke="#008000" stroke-width="3.4" stroke-linecap="round"/>
<text x="581.0" y="213.6">g<tspan font-size="10.5" dy="7.2">P-P</tspan><tspan dy="-7.2">(r)</tspan></text>
</g>
</svg></body></html>
